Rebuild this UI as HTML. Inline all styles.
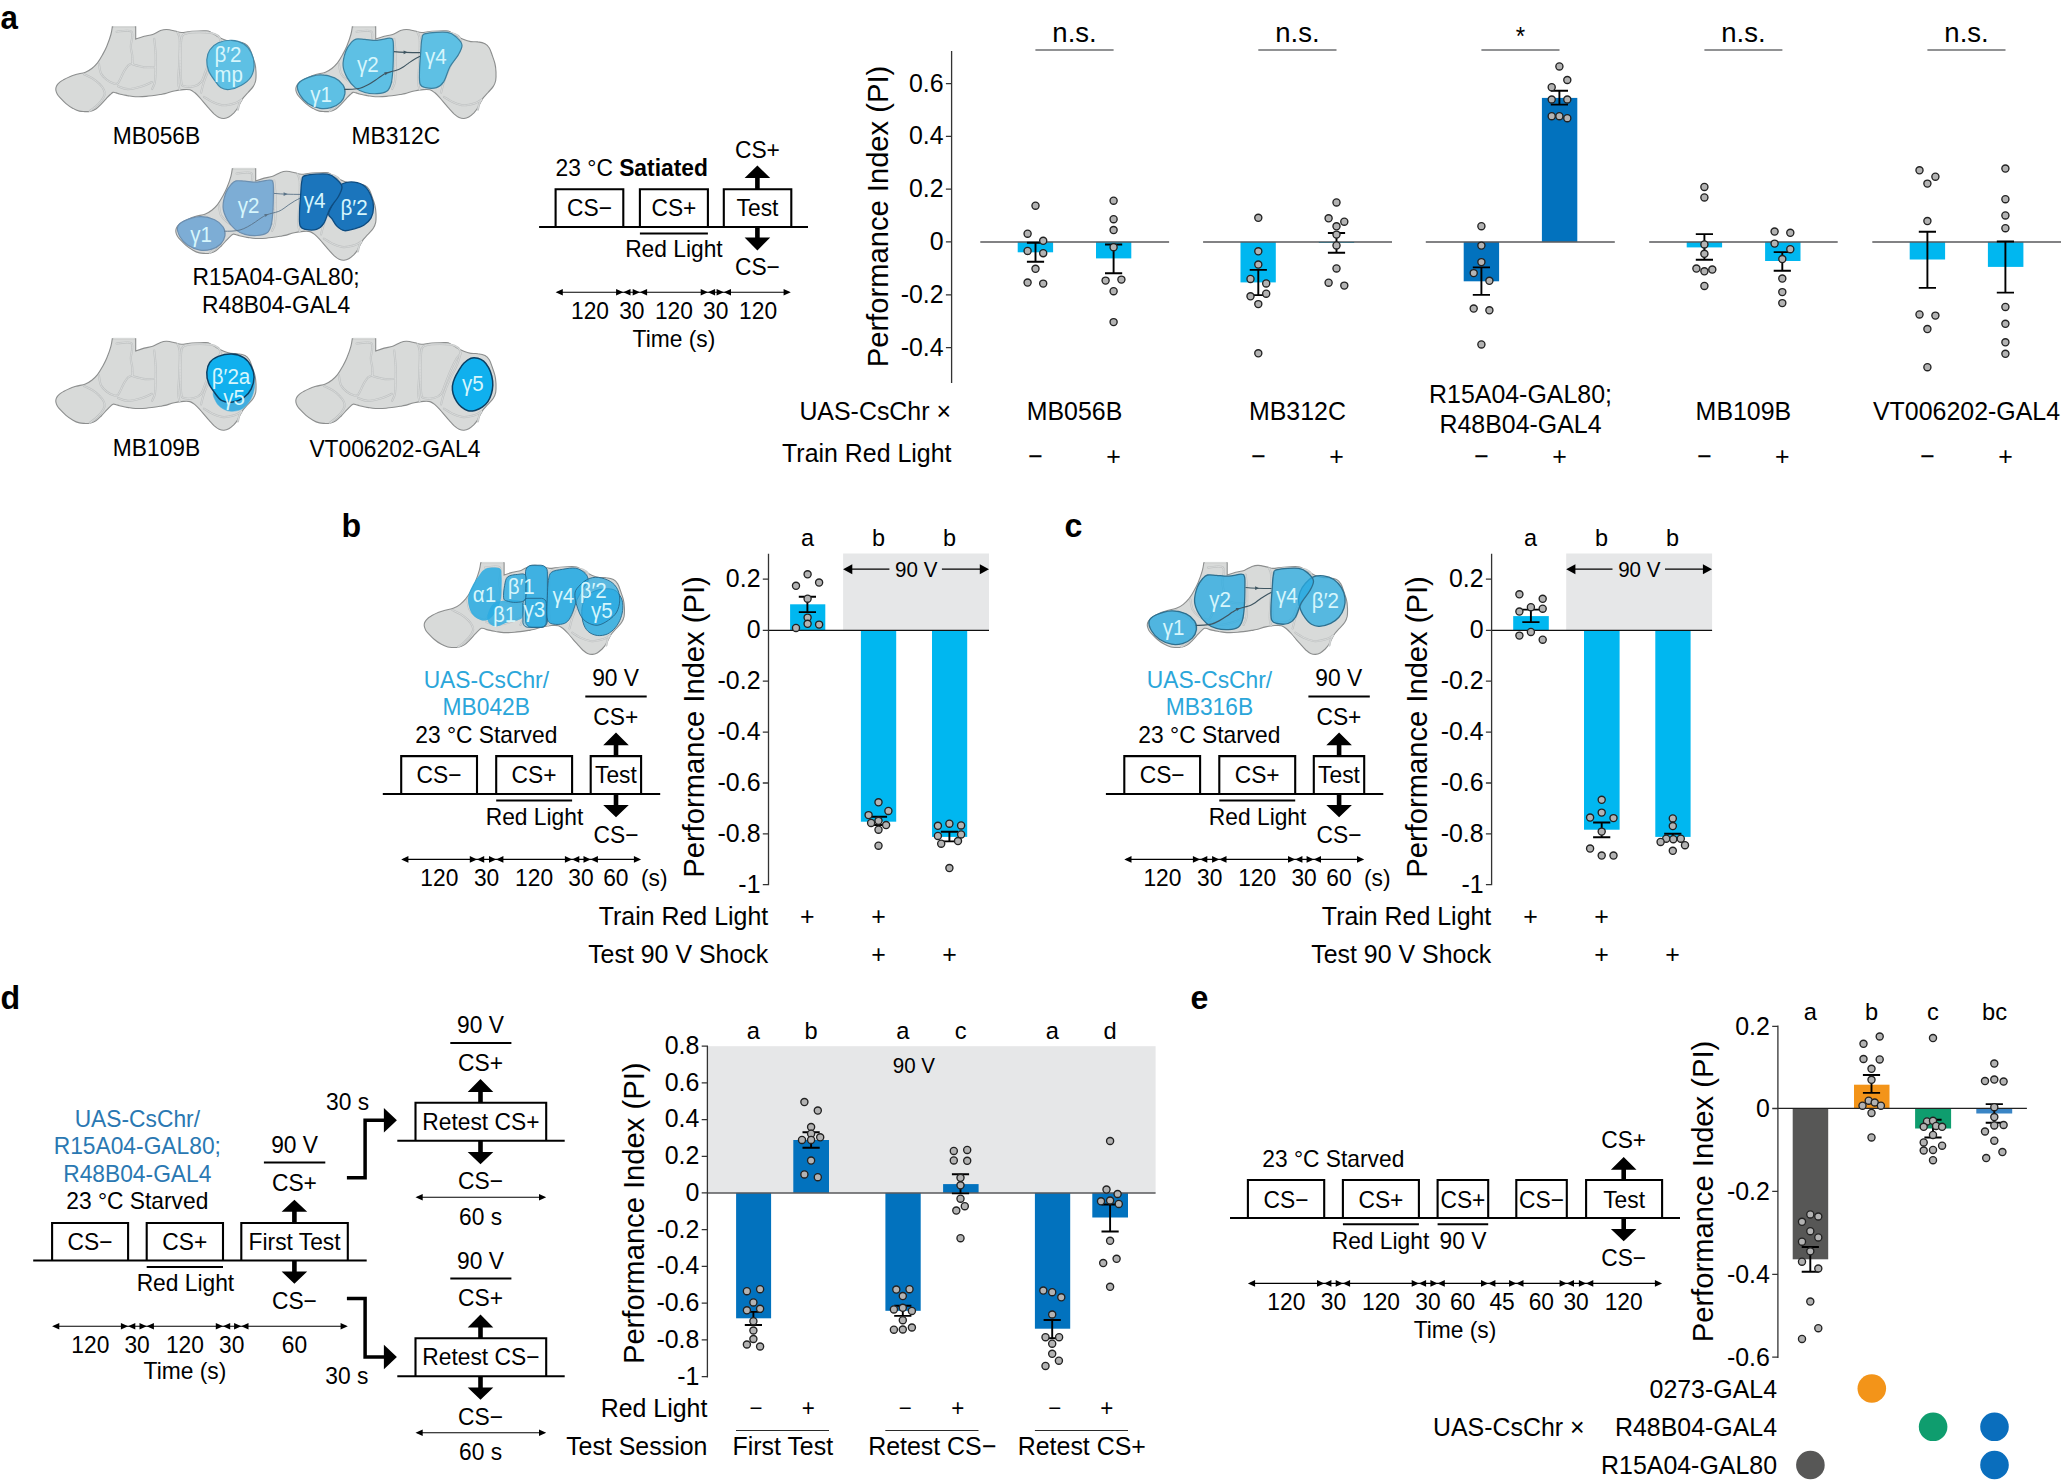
<!DOCTYPE html>
<html lang="en"><head><meta charset="utf-8"><title>Figure</title>
<style>html,body{margin:0;padding:0;background:#fff}svg{display:block}text{font-family:"Liberation Sans",Arial,Helvetica,sans-serif}</style></head><body>
<svg width="2061" height="1482" viewBox="0 0 2061 1482">
<rect width="2061" height="1482" fill="#fff"/>
<defs>
<g id="brain">
<path d="M112.3 26.9L135.7 26.9L135.7 39.1C137.1 38.6 141.4 37.1 144.2 36.3C147.0 35.5 150.0 35.5 152.7 34.5C155.4 33.5 158.2 31.4 160.5 30.6C162.8 29.8 164.2 29.4 166.6 29.5C169.0 29.6 172.8 30.5 175.2 31.0C177.6 31.5 178.5 32.5 181.3 32.5C184.1 32.5 187.8 31.6 191.9 31.3C196.0 31.0 202.9 30.6 206.1 30.8C209.3 31.0 209.2 31.5 211.0 32.4C212.8 33.2 214.6 34.7 216.7 35.9C218.8 37.1 221.4 38.5 223.8 39.5C226.2 40.5 228.6 41.2 230.9 41.6C233.2 42.0 235.6 41.5 237.9 41.9C240.2 42.2 243.1 42.7 245.0 43.7C246.9 44.7 248.1 46.1 249.3 48.0C250.5 49.9 251.2 52.4 252.1 55.0C253.0 57.6 254.2 60.7 254.9 63.5C255.6 66.3 255.9 69.2 256.0 72.0C256.1 74.8 256.1 78.1 255.7 80.5C255.2 82.9 254.6 84.4 253.3 86.4C252.1 88.4 249.8 90.4 248.2 92.3C246.5 94.2 244.7 95.9 243.4 97.6C242.1 99.3 241.5 100.7 240.5 102.5C239.5 104.3 238.6 106.5 237.5 108.3C236.4 110.1 235.1 111.6 233.7 113.1C232.2 114.5 230.4 116.1 228.8 117.0C227.2 117.9 225.6 118.4 224.0 118.5C222.4 118.6 220.7 118.2 219.1 117.5C217.5 116.8 215.9 115.5 214.3 114.1C212.7 112.6 211.0 110.6 209.4 108.8C207.8 107.0 206.2 105.3 204.6 103.4C203.0 101.5 201.3 99.4 199.7 97.6C198.1 95.8 196.5 94.1 194.9 92.8C193.3 91.5 191.9 90.3 190.0 89.8C188.1 89.3 186.0 89.4 183.4 89.6C180.8 89.8 177.3 90.3 174.2 91.0C171.1 91.7 167.4 93.0 165.0 93.6C162.6 94.2 163.2 94.0 160.0 94.5C156.8 95.0 150.2 96.0 146.1 96.4C142.0 96.8 138.5 96.8 135.4 96.7C132.3 96.6 130.1 96.0 127.4 95.6C124.7 95.1 121.3 94.5 119.4 94.0C117.5 93.5 117.3 93.2 116.2 92.9C115.1 92.6 114.0 92.1 113.0 92.4C112.0 92.7 111.4 93.5 110.3 94.5C109.2 95.5 108.1 96.7 106.6 98.3C105.1 99.9 103.0 102.4 101.2 104.2C99.4 106.0 97.8 107.8 95.9 109.0C94.0 110.2 91.9 111.0 90.0 111.4C88.1 111.8 86.5 111.6 84.7 111.6C82.9 111.5 81.4 111.6 79.4 111.1C77.5 110.6 75.2 109.7 73.0 108.4C70.8 107.2 68.2 105.5 66.0 103.6C63.8 101.7 61.1 98.8 59.6 97.2C58.1 95.6 57.8 95.2 57.2 94.0C56.6 92.8 56.1 91.5 55.9 90.3C55.7 89.1 55.8 88.2 56.1 87.1C56.5 86.0 56.9 85.1 58.0 83.9C59.1 82.7 60.8 81.3 62.8 80.1C64.8 78.8 68.0 77.4 70.3 76.4C72.6 75.4 74.2 75.0 76.7 74.3C79.2 73.6 82.9 73.2 85.4 72.2C87.9 71.2 89.8 70.1 91.8 68.5C93.8 66.9 95.7 65.0 97.5 62.8C99.3 60.5 100.9 57.7 102.4 55.0C103.9 52.3 105.3 49.9 106.7 46.5C108.1 43.1 110.0 37.8 110.9 34.5C111.8 31.2 112.1 28.2 112.3 26.9Z" fill="#D8DAD9" stroke="#8C8E8E" stroke-width="1.1"/>
<path d="M113.2 26.9H134.9" stroke="#D8DAD9" stroke-width="1.8"/>
<path d="M116.6 31.7C119.1 31.7 129.1 29.2 131.5 31.7C133.9 34.2 130.7 42.6 130.8 46.5C130.9 50.4 131.9 52.2 132.2 55.0C132.5 57.8 132.4 62.1 132.5 63.5 M98.9 63.5C99.2 65.2 99.7 70.8 101.0 73.5C102.3 76.2 104.6 78.1 106.7 79.8C108.8 81.5 111.9 82.9 113.8 83.4C115.7 83.9 116.3 84.9 118.0 83.0C119.7 81.1 122.0 74.9 123.7 72.0C125.4 69.1 126.4 67.1 127.9 65.7C129.4 64.3 131.7 63.9 132.5 63.5 M132.5 64.3C134.3 64.8 139.7 66.6 143.5 67.1C147.3 67.6 153.6 67.1 155.6 67.1 M154.2 38.7C154.4 41.2 155.4 48.8 155.6 53.6C155.8 58.5 155.7 63.1 155.6 67.8C155.5 72.5 155.5 78.5 154.9 82.0C154.3 85.5 152.5 87.9 152.0 89.1 M177.5 32.4C177.9 33.6 179.4 34.8 179.7 39.5C180.0 44.2 179.6 53.6 179.3 60.7C179.1 67.8 178.1 77.2 178.2 82.0C178.3 86.8 179.4 88.5 179.7 89.8 M84.0 74.2C85.4 74.9 89.9 76.8 92.5 78.4C95.1 80.1 97.7 82.2 99.6 84.1C101.5 86.0 103.0 88.0 103.8 89.8C104.6 91.6 105.1 92.8 104.6 94.7C104.1 96.6 102.5 99.1 101.0 101.1C99.5 103.1 97.2 105.1 95.3 106.8C93.4 108.5 90.6 110.3 89.7 111.0 M118.0 86.2C119.7 86.7 123.9 89.1 127.9 89.1C131.9 89.1 138.1 87.4 142.1 86.2C146.1 85.0 150.3 82.7 152.0 82.0 M183.4 34.5C183.1 35.3 181.8 35.1 181.3 39.5C180.8 43.9 180.5 53.6 180.5 60.7C180.5 67.8 180.7 77.8 181.3 82.0C181.9 86.2 182.0 85.5 184.1 86.2C186.2 86.9 191.2 86.9 194.0 86.2C196.8 85.5 199.2 84.4 201.1 82.0C203.0 79.6 203.7 76.0 205.3 72.0C207.0 68.0 209.1 62.1 211.0 57.9C212.9 53.6 215.2 49.2 216.7 46.5C218.2 43.8 220.0 43.4 220.2 41.6C220.4 39.8 219.9 37.4 218.1 35.9C216.3 34.4 214.0 33.3 209.6 32.7C205.2 32.1 196.3 32.1 191.9 32.4C187.5 32.7 184.8 34.1 183.4 34.5 M220.9 40.9C220.2 43.0 218.6 49.1 216.7 53.6C214.8 58.1 211.7 63.1 209.6 67.8C207.5 72.5 205.3 77.9 203.9 82.0C202.5 86.1 201.6 90.8 201.1 92.6 M203.9 96.8C205.6 97.8 210.5 101.1 213.8 102.5C217.1 103.9 220.2 105.2 223.8 105.3C227.4 105.4 232.2 104.1 235.1 103.2C238.0 102.3 240.4 100.3 241.5 99.7 M237.9 109.6C238.2 108.5 238.8 104.8 239.4 103.2C240.0 101.6 241.2 100.3 241.5 99.7" fill="none" stroke="#BEC1C1" stroke-width="2.1" stroke-linecap="round"/>
<path d="M116.6 31.7C119.1 31.7 129.1 29.2 131.5 31.7C133.9 34.2 130.7 42.6 130.8 46.5C130.9 50.4 131.9 52.2 132.2 55.0C132.5 57.8 132.4 62.1 132.5 63.5 M98.9 63.5C99.2 65.2 99.7 70.8 101.0 73.5C102.3 76.2 104.6 78.1 106.7 79.8C108.8 81.5 111.9 82.9 113.8 83.4C115.7 83.9 116.3 84.9 118.0 83.0C119.7 81.1 122.0 74.9 123.7 72.0C125.4 69.1 126.4 67.1 127.9 65.7C129.4 64.3 131.7 63.9 132.5 63.5 M132.5 64.3C134.3 64.8 139.7 66.6 143.5 67.1C147.3 67.6 153.6 67.1 155.6 67.1 M154.2 38.7C154.4 41.2 155.4 48.8 155.6 53.6C155.8 58.5 155.7 63.1 155.6 67.8C155.5 72.5 155.5 78.5 154.9 82.0C154.3 85.5 152.5 87.9 152.0 89.1 M177.5 32.4C177.9 33.6 179.4 34.8 179.7 39.5C180.0 44.2 179.6 53.6 179.3 60.7C179.1 67.8 178.1 77.2 178.2 82.0C178.3 86.8 179.4 88.5 179.7 89.8 M84.0 74.2C85.4 74.9 89.9 76.8 92.5 78.4C95.1 80.1 97.7 82.2 99.6 84.1C101.5 86.0 103.0 88.0 103.8 89.8C104.6 91.6 105.1 92.8 104.6 94.7C104.1 96.6 102.5 99.1 101.0 101.1C99.5 103.1 97.2 105.1 95.3 106.8C93.4 108.5 90.6 110.3 89.7 111.0 M118.0 86.2C119.7 86.7 123.9 89.1 127.9 89.1C131.9 89.1 138.1 87.4 142.1 86.2C146.1 85.0 150.3 82.7 152.0 82.0 M183.4 34.5C183.1 35.3 181.8 35.1 181.3 39.5C180.8 43.9 180.5 53.6 180.5 60.7C180.5 67.8 180.7 77.8 181.3 82.0C181.9 86.2 182.0 85.5 184.1 86.2C186.2 86.9 191.2 86.9 194.0 86.2C196.8 85.5 199.2 84.4 201.1 82.0C203.0 79.6 203.7 76.0 205.3 72.0C207.0 68.0 209.1 62.1 211.0 57.9C212.9 53.6 215.2 49.2 216.7 46.5C218.2 43.8 220.0 43.4 220.2 41.6C220.4 39.8 219.9 37.4 218.1 35.9C216.3 34.4 214.0 33.3 209.6 32.7C205.2 32.1 196.3 32.1 191.9 32.4C187.5 32.7 184.8 34.1 183.4 34.5 M220.9 40.9C220.2 43.0 218.6 49.1 216.7 53.6C214.8 58.1 211.7 63.1 209.6 67.8C207.5 72.5 205.3 77.9 203.9 82.0C202.5 86.1 201.6 90.8 201.1 92.6 M203.9 96.8C205.6 97.8 210.5 101.1 213.8 102.5C217.1 103.9 220.2 105.2 223.8 105.3C227.4 105.4 232.2 104.1 235.1 103.2C238.0 102.3 240.4 100.3 241.5 99.7 M237.9 109.6C238.2 108.5 238.8 104.8 239.4 103.2C240.0 101.6 241.2 100.3 241.5 99.7" fill="none" stroke="#DEE0E0" stroke-width="0.8" stroke-linecap="round"/>
</g>
</defs>
<text transform="translate(0.5 29.4) scale(0.94 1)" font-size="33.3" font-weight="bold">a</text>
<text transform="translate(341.5 536.8) scale(0.966 1)" font-size="33.3" font-weight="bold">b</text>
<text transform="translate(1064.5 536.8) scale(0.966 1)" font-size="33.3" font-weight="bold">c</text>
<text transform="translate(0.5 1009.2) scale(0.966 1)" font-size="33.3" font-weight="bold">d</text>
<text transform="translate(1190.5 1009.2) scale(0.966 1)" font-size="33.3" font-weight="bold">e</text>
<g transform="translate(0.0 0.0)">
<use href="#brain"/>
<path d="M209.8 50.0C211.7 47.2 214.7 44.4 218.3 42.8C222.0 41.2 227.4 40.1 231.7 40.3C235.9 40.5 240.6 42.0 243.8 44.0C247.0 46.0 249.4 49.1 251.1 52.5C252.8 55.9 254.1 60.6 254.1 64.6C254.1 68.6 253.2 73.3 251.1 76.7C249.0 80.1 245.1 83.1 241.4 85.2C237.8 87.3 232.6 89.1 229.2 89.5C225.8 89.9 223.1 89.1 220.7 87.6C218.3 86.1 216.7 83.2 214.7 80.4C212.7 77.6 209.9 74.2 208.6 70.7C207.3 67.2 206.6 63.2 206.8 59.7C207.0 56.2 207.9 52.8 209.8 50.0Z" fill="#5EC0E4" stroke="#3F87A8" stroke-width="1.2"/>
</g>
<text transform="translate(228.0 61.7) scale(0.966 1)" font-size="21.3" text-anchor="middle" fill="#D6F6FC">β′2</text>
<text transform="translate(228.6 81.8) scale(0.966 1)" font-size="21.3" text-anchor="middle" fill="#D6F6FC">mp</text>
<text transform="translate(156.5 144.2) scale(0.966 1)" font-size="23.6" text-anchor="middle">MB056B</text>
<g transform="translate(240.0 0.0)">
<use href="#brain"/>
<path d="M57.6 85.2C58.3 82.6 60.6 80.8 64.3 79.1C68.0 77.4 75.0 75.1 80.0 74.9C85.0 74.7 90.8 76.2 94.6 77.9C98.4 79.6 101.4 82.6 103.1 85.2C104.8 87.8 105.3 90.9 104.9 93.7C104.5 96.5 103.0 99.9 100.7 102.2C98.4 104.5 94.5 106.6 91.0 107.6C87.5 108.6 83.8 109.0 80.0 108.3C76.2 107.6 71.2 105.6 67.9 103.4C64.6 101.2 61.7 97.9 60.0 94.9C58.3 91.9 56.9 87.8 57.6 85.2Z" fill="#5EC0E4" stroke="#3B7F9E" stroke-width="1.2"/>
<path d="M116.0 39.1C118.3 38.6 121.4 39.2 124.9 39.4C128.4 39.6 132.9 40.5 137.0 40.3C141.1 40.1 146.8 38.2 149.5 38.2C152.2 38.2 152.2 38.5 152.9 40.5C153.6 42.5 153.4 45.0 153.4 50.0C153.4 55.0 153.2 65.0 152.8 70.7C152.4 76.4 152.0 80.6 151.0 84.0C150.0 87.4 149.0 89.7 146.7 91.3C144.4 92.9 140.6 93.5 137.0 93.7C133.4 93.9 128.5 93.5 124.9 92.5C121.3 91.5 118.1 90.0 115.2 87.6C112.3 85.2 109.3 81.5 107.3 77.9C105.3 74.3 103.3 70.2 103.1 65.8C102.8 61.3 104.4 55.1 105.8 51.2C107.2 47.3 109.5 44.6 111.2 42.6C112.9 40.6 113.7 39.6 116.0 39.1Z" fill="#5EC0E4" stroke="#3B7F9E" stroke-width="1.2"/>
<path d="M185.6 33.7C189.8 32.6 202.2 31.7 207.4 32.4C212.7 33.1 214.7 35.8 217.1 37.9C219.5 40.0 221.8 42.4 222.0 45.2C222.2 48.0 220.3 51.3 218.3 54.9C216.3 58.5 212.2 62.5 209.8 67.0C207.4 71.5 206.0 78.2 203.8 81.6C201.6 85.0 199.5 86.6 196.5 87.6C193.5 88.6 188.3 88.2 185.6 87.6C182.9 87.0 181.1 86.8 180.1 84.0C179.1 81.2 179.4 76.0 179.5 70.7C179.6 65.5 180.3 57.8 180.7 52.5C181.1 47.2 181.1 42.2 181.9 39.1C182.7 36.0 181.3 34.8 185.6 33.7Z" fill="#5EC0E4" stroke="#3B7F9E" stroke-width="1.2"/>
<path d="M104.2 89.4C105.5 89.4 109.4 89.5 112.0 89.3C114.6 89.1 117.4 88.9 120.0 88.2C122.6 87.5 125.0 86.3 127.5 85.0C130.1 83.7 133.1 81.7 135.3 80.2C137.6 78.7 139.1 77.4 141.0 76.2C142.9 75.0 144.6 73.9 146.5 73.1C148.4 72.3 150.5 71.9 152.5 71.3C154.5 70.7 156.8 70.4 158.7 69.6C160.6 68.8 162.3 67.6 164.0 66.5C165.7 65.4 167.2 64.1 168.9 62.9C170.7 61.7 172.6 60.4 174.5 59.3C176.4 58.2 179.2 56.8 180.1 56.3" fill="none" stroke="#3E5561" stroke-width="1.1"/>
<path d="M154 51.6C162 52.4 172 52.6 180.1 52.6" fill="none" stroke="#3E5561" stroke-width="1.1"/>
<path d="M163.6 50.4L167.6 52.3L163.6 54.2Z" fill="#3E5561"/>
<path d="M144.2 72.2L148.4 72.2L145.6 75.2Z" fill="#3E5561"/>
</g>
<text transform="translate(321.2 102.4) scale(0.966 1)" font-size="21.3" text-anchor="middle" fill="#D6F6FC">γ1</text>
<text transform="translate(367.9 71.5) scale(0.966 1)" font-size="21.3" text-anchor="middle" fill="#D6F6FC">γ2</text>
<text transform="translate(435.9 64.2) scale(0.966 1)" font-size="21.3" text-anchor="middle" fill="#D6F6FC">γ4</text>
<text transform="translate(395.8 144.2) scale(0.966 1)" font-size="23.6" text-anchor="middle">MB312C</text>
<g transform="translate(120.0 141.8)">
<use href="#brain"/>
<path d="M57.6 85.2C58.3 82.6 60.6 80.8 64.3 79.1C68.0 77.4 75.0 75.1 80.0 74.9C85.0 74.7 90.8 76.2 94.6 77.9C98.4 79.6 101.4 82.6 103.1 85.2C104.8 87.8 105.3 90.9 104.9 93.7C104.5 96.5 103.0 99.9 100.7 102.2C98.4 104.5 94.5 106.6 91.0 107.6C87.5 108.6 83.8 109.0 80.0 108.3C76.2 107.6 71.2 105.6 67.9 103.4C64.6 101.2 61.7 97.9 60.0 94.9C58.3 91.9 56.9 87.8 57.6 85.2Z" fill="#7DADD5" stroke="#6C8FB0" stroke-width="1.2"/>
<path d="M116.0 39.1C118.3 38.6 121.4 39.2 124.9 39.4C128.4 39.6 132.9 40.5 137.0 40.3C141.1 40.1 146.8 38.2 149.5 38.2C152.2 38.2 152.2 38.5 152.9 40.5C153.6 42.5 153.4 45.0 153.4 50.0C153.4 55.0 153.2 65.0 152.8 70.7C152.4 76.4 152.0 80.6 151.0 84.0C150.0 87.4 149.0 89.7 146.7 91.3C144.4 92.9 140.6 93.5 137.0 93.7C133.4 93.9 128.5 93.5 124.9 92.5C121.3 91.5 118.1 90.0 115.2 87.6C112.3 85.2 109.3 81.5 107.3 77.9C105.3 74.3 103.3 70.2 103.1 65.8C102.8 61.3 104.4 55.1 105.8 51.2C107.2 47.3 109.5 44.6 111.2 42.6C112.9 40.6 113.7 39.6 116.0 39.1Z" fill="#7DADD5" stroke="#6C8FB0" stroke-width="1.2"/>
<path d="M104.2 89.4C105.5 89.4 109.4 89.5 112.0 89.3C114.6 89.1 117.4 88.9 120.0 88.2C122.6 87.5 125.0 86.3 127.5 85.0C130.1 83.7 133.1 81.7 135.3 80.2C137.6 78.7 139.1 77.4 141.0 76.2C142.9 75.0 144.6 73.9 146.5 73.1C148.4 72.3 150.5 71.9 152.5 71.3C154.5 70.7 156.8 70.4 158.7 69.6C160.6 68.8 162.3 67.6 164.0 66.5C165.7 65.4 167.2 64.1 168.9 62.9C170.7 61.7 172.6 60.4 174.5 59.3C176.4 58.2 179.2 56.8 180.1 56.3" fill="none" stroke="#5a7388" stroke-width="0.9"/>
<path d="M154 51.6C162 52.4 172 52.6 180.1 52.6" fill="none" stroke="#5a7388" stroke-width="0.9"/>
<path d="M163.6 50.4L167.6 52.3L163.6 54.2Z" fill="#5a7388"/>
<path d="M144.2 72.2L148.4 72.2L145.6 75.2Z" fill="#5a7388"/>
<path d="M222.0 42.2C224.2 41.1 230.3 39.9 234.1 40.3C237.9 40.7 242.2 42.3 245.0 44.6C247.8 46.9 249.7 50.9 251.1 54.3C252.5 57.7 253.5 61.6 253.5 65.2C253.5 68.8 252.7 73.1 251.1 76.1C249.5 79.1 246.6 81.6 243.8 83.4C241.0 85.2 237.3 86.1 234.1 87.0C230.9 87.9 227.2 89.3 224.4 88.9C221.6 88.5 219.1 86.5 217.1 84.6C215.1 82.7 213.6 79.5 212.2 77.3C210.8 75.1 208.0 74.7 208.6 71.3C209.2 67.9 213.9 60.8 215.9 56.7C217.9 52.7 219.7 49.4 220.7 47.0C221.7 44.6 219.8 43.3 222.0 42.2Z" fill="#1B75BC" stroke="#0E4C80" stroke-width="1.3"/>
<path d="M185.6 33.7C189.8 32.6 202.2 31.7 207.4 32.4C212.7 33.1 214.7 35.8 217.1 37.9C219.5 40.0 221.8 42.4 222.0 45.2C222.2 48.0 220.3 51.3 218.3 54.9C216.3 58.5 212.2 62.5 209.8 67.0C207.4 71.5 206.0 78.2 203.8 81.6C201.6 85.0 199.5 86.6 196.5 87.6C193.5 88.6 188.3 88.2 185.6 87.6C182.9 87.0 181.1 86.8 180.1 84.0C179.1 81.2 179.4 76.0 179.5 70.7C179.6 65.5 180.3 57.8 180.7 52.5C181.1 47.2 181.1 42.2 181.9 39.1C182.7 36.0 181.3 34.8 185.6 33.7Z" fill="#1B75BC" stroke="#0E4C80" stroke-width="1.3"/>
</g>
<text transform="translate(201.2 242.4) scale(0.966 1)" font-size="21.3" text-anchor="middle" fill="#D6F6FC">γ1</text>
<text transform="translate(248.5 213.3) scale(0.966 1)" font-size="21.3" text-anchor="middle" fill="#D6F6FC">γ2</text>
<text transform="translate(314.7 207.8) scale(0.966 1)" font-size="21.3" text-anchor="middle" fill="#D6F6FC">γ4</text>
<text transform="translate(354.1 214.5) scale(0.966 1)" font-size="21.3" text-anchor="middle" fill="#D6F6FC">β′2</text>
<text transform="translate(276.1 285.4) scale(0.966 1)" font-size="23.6" text-anchor="middle">R15A04-GAL80;</text>
<text transform="translate(276.1 313.3) scale(0.966 1)" font-size="23.6" text-anchor="middle">R48B04-GAL4</text>
<g transform="translate(0.0 311.8)">
<use href="#brain"/>
<path d="M214.0 78.0C211.7 83.0 214.5 86.8 216.0 90.0C217.5 93.2 220.3 95.4 223.0 97.0C225.7 98.6 228.7 99.6 232.0 99.5C235.3 99.4 239.8 98.8 243.0 96.5C246.2 94.2 249.6 90.1 251.5 86.0C253.4 81.9 254.9 76.3 254.7 72.0C254.4 67.7 254.1 62.0 250.0 60.0C245.9 58.0 236.0 57.0 230.0 60.0C224.0 63.0 216.3 73.0 214.0 78.0Z" fill="#3FAEE0" stroke="#3FAEE0" stroke-width="0.5"/>
<path d="M209.8 50.7C211.7 48.1 214.7 46.0 218.3 44.6C222.0 43.2 227.4 42.0 231.7 42.2C235.9 42.4 240.6 43.8 243.8 45.8C247.0 47.8 249.4 51.1 251.1 54.3C252.8 57.5 254.1 61.4 254.1 65.2C254.1 69.0 252.8 73.9 251.1 77.3C249.4 80.7 246.8 83.7 243.8 85.8C240.8 87.9 236.5 89.6 232.9 90.1C229.3 90.6 225.0 90.4 222.0 88.9C219.0 87.4 216.9 83.9 214.7 81.0C212.5 78.1 209.9 74.7 208.6 71.3C207.3 67.9 206.6 63.8 206.8 60.4C207.0 57.0 207.9 53.3 209.8 50.7Z" fill="#10B0EE" stroke="#0B3F63" stroke-width="1.5"/>
</g>
<text transform="translate(231.0 383.9) scale(0.966 1)" font-size="21.3" text-anchor="middle" fill="#D6F6FC">β′2a</text>
<text transform="translate(234.1 404.5) scale(0.966 1)" font-size="21.3" text-anchor="middle" fill="#D6F6FC">γ5</text>
<text transform="translate(156.5 456.0) scale(0.966 1)" font-size="23.6" text-anchor="middle">MB109B</text>
<g transform="translate(240.0 311.8)">
<use href="#brain"/>
<path d="M230.9 46.5C233.2 45.7 235.8 46.0 237.9 46.5C240.0 47.0 241.8 47.9 243.6 49.4C245.4 50.9 247.2 53.3 248.6 55.8C250.0 58.3 251.1 61.3 251.8 64.3C252.5 67.2 252.9 70.5 252.8 73.5C252.7 76.5 252.2 79.3 251.4 82.0C250.6 84.7 249.4 87.6 247.9 89.8C246.4 92.0 244.3 93.9 242.2 95.4C240.1 96.9 237.5 98.0 235.1 98.6C232.7 99.2 230.2 99.5 228.0 99.0C225.8 98.5 223.5 96.9 221.6 95.4C219.7 93.9 218.1 92.0 216.7 89.8C215.3 87.6 213.8 84.6 213.1 82.0C212.4 79.4 212.2 76.8 212.4 74.2C212.7 71.6 213.5 69.0 214.6 66.4C215.7 63.8 217.3 61.1 218.8 58.6C220.3 56.1 221.8 53.5 223.8 51.5C225.8 49.5 228.6 47.3 230.9 46.5Z" fill="#10B0EE" stroke="#0B3F63" stroke-width="1.5"/>
</g>
<text transform="translate(472.9 390.9) scale(0.966 1)" font-size="21.3" text-anchor="middle" fill="#D6F6FC">γ5</text>
<text transform="translate(394.9 456.7) scale(0.966 1)" font-size="23.6" text-anchor="middle">VT006202-GAL4</text>
<text transform="translate(555.6 175.8) scale(0.966 1)" font-size="23.6">23 °C <tspan font-weight="bold">Satiated</tspan></text>
<line x1="539.1" y1="226.9" x2="808.0" y2="226.9" stroke="#000" stroke-width="2.0"/>
<path d="M555.6 226.9V189.3H623.3V226.9" fill="none" stroke="#000" stroke-width="2.1"/>
<text transform="translate(589.5 216.3) scale(0.966 1)" font-size="23.6" text-anchor="middle">CS−</text>
<path d="M639.9 226.9V189.3H707.9V226.9" fill="none" stroke="#000" stroke-width="2.1"/>
<text transform="translate(673.9 216.3) scale(0.966 1)" font-size="23.6" text-anchor="middle">CS+</text>
<path d="M723.8 226.9V189.3H791.3V226.9" fill="none" stroke="#000" stroke-width="2.1"/>
<text transform="translate(757.5 216.3) scale(0.966 1)" font-size="23.6" text-anchor="middle">Test</text>
<line x1="639.9" y1="233.4" x2="707.9" y2="233.4" stroke="#000" stroke-width="2.0"/>
<text transform="translate(673.9 257.1) scale(0.966 1)" font-size="23.6" text-anchor="middle">Red Light</text>
<text transform="translate(757.4 157.7) scale(0.966 1)" font-size="23.6" text-anchor="middle">CS+</text>
<path d="M757.4 165.4L770.2 178.0H759.7V189.3H755.1V178.0H744.6Z" fill="#000"/>
<path d="M757.4 250.4L770.2 237.4H759.7V226.9H755.1V237.4H744.6Z" fill="#000"/>
<text transform="translate(757.4 274.7) scale(0.966 1)" font-size="23.6" text-anchor="middle">CS−</text>
<line x1="557.6" y1="292.2" x2="788.8" y2="292.2" stroke="#000" stroke-width="1.1"/>
<path d="M555.6 292.2L562.8 288.9V295.5ZM623.3 292.2L616.1 288.9V295.5ZM623.3 292.2L630.5 288.9V295.5ZM639.9 292.2L632.7 288.9V295.5ZM639.9 292.2L647.1 288.9V295.5ZM707.9 292.2L700.7 288.9V295.5ZM707.9 292.2L715.1 288.9V295.5ZM723.8 292.2L716.6 288.9V295.5ZM723.8 292.2L731.0 288.9V295.5ZM790.8 292.2L783.6 288.9V295.5Z" fill="#000"/>
<text transform="translate(590.0 318.7) scale(0.966 1)" font-size="23.6" text-anchor="middle">120</text>
<text transform="translate(631.8 318.7) scale(0.966 1)" font-size="23.6" text-anchor="middle">30</text>
<text transform="translate(673.9 318.7) scale(0.966 1)" font-size="23.6" text-anchor="middle">120</text>
<text transform="translate(715.7 318.7) scale(0.966 1)" font-size="23.6" text-anchor="middle">30</text>
<text transform="translate(758.1 318.7) scale(0.966 1)" font-size="23.6" text-anchor="middle">120</text>
<text transform="translate(673.9 346.7) scale(0.966 1)" font-size="23.6" text-anchor="middle">Time (s)</text>
<text transform="translate(943.6 91.6) scale(0.966 1)" font-size="25.8" text-anchor="end">0.6</text>
<text transform="translate(943.6 144.4) scale(0.966 1)" font-size="25.8" text-anchor="end">0.4</text>
<text transform="translate(943.6 197.1) scale(0.966 1)" font-size="25.8" text-anchor="end">0.2</text>
<text transform="translate(943.6 249.9) scale(0.966 1)" font-size="25.8" text-anchor="end">0</text>
<text transform="translate(943.6 302.8) scale(0.966 1)" font-size="25.8" text-anchor="end">-0.2</text>
<text transform="translate(943.6 355.6) scale(0.966 1)" font-size="25.8" text-anchor="end">-0.4</text>
<path d="M951.6 50.9V382.9M945.9 83.6H951.6M945.9 136.4H951.6M945.9 189.1H951.6M945.9 241.9H951.6M945.9 294.8H951.6M945.9 347.6H951.6" fill="none" stroke="#333" stroke-width="1.3"/>
<text transform="translate(887.6 216.5) rotate(-90) scale(0.966 1)" font-size="30.2" text-anchor="middle">Performance Index (PI)</text>
<rect x="1017.7" y="241.9" width="35.4" height="10.4" fill="#00B7F0"/>
<rect x="1096.0" y="241.9" width="35.3" height="16.5" fill="#00B7F0"/>
<line x1="980.3" y1="241.9" x2="1169.1" y2="241.9" stroke="#58595B" stroke-width="1.5"/>
<line x1="1035.4" y1="50.0" x2="1113.6" y2="50.0" stroke="#6D6E70" stroke-width="1.5"/>
<text transform="translate(1074.5 41.9) scale(0.966 1)" font-size="28.5" text-anchor="middle">n.s.</text>
<text transform="translate(1074.5 420.0) scale(0.966 1)" font-size="25.8" text-anchor="middle">MB056B</text>
<text transform="translate(1035.4 465.2) scale(0.966 1)" font-size="25.8" text-anchor="middle">−</text>
<text transform="translate(1113.6 465.2) scale(0.966 1)" font-size="25.8" text-anchor="middle">+</text>
<rect x="1240.5" y="241.9" width="35.3" height="40.5" fill="#00B7F0"/>
<rect x="1318.8" y="241.9" width="35.4" height="1.1" fill="#00B7F0"/>
<line x1="1203.1" y1="241.9" x2="1392.0" y2="241.9" stroke="#58595B" stroke-width="1.5"/>
<line x1="1258.3" y1="50.0" x2="1336.5" y2="50.0" stroke="#6D6E70" stroke-width="1.5"/>
<text transform="translate(1297.4 41.9) scale(0.966 1)" font-size="28.5" text-anchor="middle">n.s.</text>
<text transform="translate(1297.4 420.0) scale(0.966 1)" font-size="25.8" text-anchor="middle">MB312C</text>
<text transform="translate(1258.3 465.2) scale(0.966 1)" font-size="25.8" text-anchor="middle">−</text>
<text transform="translate(1336.5 465.2) scale(0.966 1)" font-size="25.8" text-anchor="middle">+</text>
<rect x="1463.7" y="241.9" width="35.4" height="39.4" fill="#0272BE"/>
<rect x="1541.9" y="97.9" width="35.4" height="144.0" fill="#0272BE"/>
<line x1="1425.8" y1="241.9" x2="1614.8" y2="241.9" stroke="#58595B" stroke-width="1.5"/>
<line x1="1481.4" y1="50.0" x2="1559.5" y2="50.0" stroke="#6D6E70" stroke-width="1.5"/>
<text transform="translate(1520.5 45.4) scale(0.966 1)" font-size="25" text-anchor="middle">*</text>
<text transform="translate(1520.5 403.1) scale(0.966 1)" font-size="25.8" text-anchor="middle">R15A04-GAL80;</text>
<text transform="translate(1520.5 432.9) scale(0.966 1)" font-size="25.8" text-anchor="middle">R48B04-GAL4</text>
<text transform="translate(1481.4 465.2) scale(0.966 1)" font-size="25.8" text-anchor="middle">−</text>
<text transform="translate(1559.5 465.2) scale(0.966 1)" font-size="25.8" text-anchor="middle">+</text>
<rect x="1686.7" y="241.9" width="35.4" height="5.5" fill="#00B7F0"/>
<rect x="1765.1" y="241.9" width="35.4" height="19.1" fill="#00B7F0"/>
<line x1="1649.2" y1="241.9" x2="1837.7" y2="241.9" stroke="#58595B" stroke-width="1.5"/>
<line x1="1704.4" y1="50.0" x2="1782.4" y2="50.0" stroke="#6D6E70" stroke-width="1.5"/>
<text transform="translate(1743.4 41.9) scale(0.966 1)" font-size="28.5" text-anchor="middle">n.s.</text>
<text transform="translate(1743.4 420.0) scale(0.966 1)" font-size="25.8" text-anchor="middle">MB109B</text>
<text transform="translate(1704.4 465.2) scale(0.966 1)" font-size="25.8" text-anchor="middle">−</text>
<text transform="translate(1782.4 465.2) scale(0.966 1)" font-size="25.8" text-anchor="middle">+</text>
<rect x="1909.7" y="241.9" width="35.4" height="17.6" fill="#00B7F0"/>
<rect x="1987.9" y="241.9" width="35.5" height="25.0" fill="#00B7F0"/>
<line x1="1872.3" y1="241.9" x2="2061.0" y2="241.9" stroke="#58595B" stroke-width="1.5"/>
<line x1="1927.4" y1="50.0" x2="2005.5" y2="50.0" stroke="#6D6E70" stroke-width="1.5"/>
<text transform="translate(1966.5 41.9) scale(0.966 1)" font-size="28.5" text-anchor="middle">n.s.</text>
<text transform="translate(1966.5 420.0) scale(0.966 1)" font-size="25.8" text-anchor="middle">VT006202-GAL4</text>
<text transform="translate(1927.4 465.2) scale(0.966 1)" font-size="25.8" text-anchor="middle">−</text>
<text transform="translate(2005.5 465.2) scale(0.966 1)" font-size="25.8" text-anchor="middle">+</text>
<text transform="translate(951.0 420.0) scale(0.966 1)" font-size="25.8" text-anchor="end">UAS-CsChr ×</text>
<text transform="translate(951.5 461.7) scale(0.966 1)" font-size="25.8" text-anchor="end">Train Red Light</text>
<path d="M1026.9 242.8H1044.1M1026.9 261.7H1044.1M1035.5 242.8V261.7" fill="none" stroke="#000" stroke-width="1.9"/>
<path d="M1105.0 244.5H1122.2M1105.0 273.2H1122.2M1113.6 244.5V273.2" fill="none" stroke="#000" stroke-width="1.9"/>
<path d="M1249.7 269.9H1266.9M1249.7 295.1H1266.9M1258.3 269.9V295.1" fill="none" stroke="#000" stroke-width="1.9"/>
<path d="M1327.9 233.0H1345.1M1327.9 252.7H1345.1M1336.5 233.0V252.7" fill="none" stroke="#000" stroke-width="1.9"/>
<path d="M1472.8 267.4H1490.0M1472.8 294.9H1490.0M1481.4 267.4V294.9" fill="none" stroke="#000" stroke-width="1.9"/>
<path d="M1550.8 90.8H1568.0M1550.8 104.6H1568.0M1559.4 90.8V104.6" fill="none" stroke="#000" stroke-width="1.9"/>
<path d="M1695.8 234.1H1713.0M1695.8 259.7H1713.0M1704.4 234.1V259.7" fill="none" stroke="#000" stroke-width="1.9"/>
<path d="M1773.7 252.1H1790.9M1773.7 270.8H1790.9M1782.3 252.1V270.8" fill="none" stroke="#000" stroke-width="1.9"/>
<path d="M1918.8 231.8H1936.0M1918.8 287.9H1936.0M1927.4 231.8V287.9" fill="none" stroke="#000" stroke-width="1.9"/>
<path d="M1996.8 241.5H2014.0M1996.8 292.6H2014.0M2005.4 241.5V292.6" fill="none" stroke="#000" stroke-width="1.9"/>
<g fill="#B3B3B3" stroke="#222" stroke-width="1.35">
<circle cx="1035.5" cy="205.7" r="3.55"/>
<circle cx="1027.6" cy="233.7" r="3.55"/>
<circle cx="1043.2" cy="240.8" r="3.55"/>
<circle cx="1027.6" cy="250.9" r="3.55"/>
<circle cx="1043.2" cy="253.2" r="3.55"/>
<circle cx="1035.5" cy="268.8" r="3.55"/>
<circle cx="1027.6" cy="282.5" r="3.55"/>
<circle cx="1043.2" cy="283.6" r="3.55"/>
<circle cx="1113.6" cy="200.7" r="3.55"/>
<circle cx="1113.6" cy="219.2" r="3.55"/>
<circle cx="1113.6" cy="230.0" r="3.55"/>
<circle cx="1113.6" cy="247.2" r="3.55"/>
<circle cx="1105.6" cy="280.6" r="3.55"/>
<circle cx="1121.4" cy="279.6" r="3.55"/>
<circle cx="1113.6" cy="291.2" r="3.55"/>
<circle cx="1113.6" cy="322.1" r="3.55"/>
<circle cx="1258.3" cy="217.8" r="3.55"/>
<circle cx="1258.3" cy="251.3" r="3.55"/>
<circle cx="1258.3" cy="264.5" r="3.55"/>
<circle cx="1250.5" cy="278.9" r="3.55"/>
<circle cx="1266.2" cy="283.4" r="3.55"/>
<circle cx="1266.2" cy="293.7" r="3.55"/>
<circle cx="1250.5" cy="296.3" r="3.55"/>
<circle cx="1258.3" cy="304.1" r="3.55"/>
<circle cx="1258.3" cy="353.3" r="3.55"/>
<circle cx="1336.5" cy="202.4" r="3.55"/>
<circle cx="1328.6" cy="218.3" r="3.55"/>
<circle cx="1344.3" cy="221.7" r="3.55"/>
<circle cx="1336.5" cy="226.3" r="3.55"/>
<circle cx="1336.5" cy="234.6" r="3.55"/>
<circle cx="1336.5" cy="245.4" r="3.55"/>
<circle cx="1336.5" cy="268.4" r="3.55"/>
<circle cx="1328.6" cy="282.7" r="3.55"/>
<circle cx="1344.3" cy="285.6" r="3.55"/>
<circle cx="1481.4" cy="226.2" r="3.55"/>
<circle cx="1481.4" cy="245.6" r="3.55"/>
<circle cx="1481.4" cy="262.1" r="3.55"/>
<circle cx="1473.7" cy="273.1" r="3.55"/>
<circle cx="1489.4" cy="280.8" r="3.55"/>
<circle cx="1473.7" cy="308.5" r="3.55"/>
<circle cx="1489.4" cy="310.3" r="3.55"/>
<circle cx="1481.4" cy="344.4" r="3.55"/>
<circle cx="1559.4" cy="66.4" r="3.55"/>
<circle cx="1567.3" cy="80.0" r="3.55"/>
<circle cx="1551.7" cy="87.2" r="3.55"/>
<circle cx="1551.7" cy="99.5" r="3.55"/>
<circle cx="1567.3" cy="99.5" r="3.55"/>
<circle cx="1551.7" cy="116.2" r="3.55"/>
<circle cx="1559.4" cy="116.2" r="3.55"/>
<circle cx="1567.3" cy="118.2" r="3.55"/>
<circle cx="1704.4" cy="186.9" r="3.55"/>
<circle cx="1704.4" cy="197.4" r="3.55"/>
<circle cx="1704.4" cy="244.4" r="3.55"/>
<circle cx="1704.4" cy="253.8" r="3.55"/>
<circle cx="1696.4" cy="268.5" r="3.55"/>
<circle cx="1712.3" cy="269.5" r="3.55"/>
<circle cx="1704.4" cy="271.3" r="3.55"/>
<circle cx="1704.4" cy="285.9" r="3.55"/>
<circle cx="1774.6" cy="231.5" r="3.55"/>
<circle cx="1790.3" cy="232.8" r="3.55"/>
<circle cx="1774.6" cy="243.6" r="3.55"/>
<circle cx="1790.3" cy="249.2" r="3.55"/>
<circle cx="1782.3" cy="259.0" r="3.55"/>
<circle cx="1782.3" cy="278.5" r="3.55"/>
<circle cx="1782.3" cy="292.1" r="3.55"/>
<circle cx="1782.3" cy="303.1" r="3.55"/>
<circle cx="1919.5" cy="170.3" r="3.55"/>
<circle cx="1935.4" cy="176.7" r="3.55"/>
<circle cx="1927.4" cy="183.6" r="3.55"/>
<circle cx="1927.4" cy="221.0" r="3.55"/>
<circle cx="1919.5" cy="314.4" r="3.55"/>
<circle cx="1935.4" cy="315.6" r="3.55"/>
<circle cx="1927.4" cy="329.0" r="3.55"/>
<circle cx="1927.4" cy="367.2" r="3.55"/>
<circle cx="2005.4" cy="168.5" r="3.55"/>
<circle cx="2005.4" cy="199.2" r="3.55"/>
<circle cx="2005.4" cy="215.4" r="3.55"/>
<circle cx="2005.4" cy="228.2" r="3.55"/>
<circle cx="2005.4" cy="306.9" r="3.55"/>
<circle cx="2005.4" cy="323.8" r="3.55"/>
<circle cx="2005.4" cy="342.3" r="3.55"/>
<circle cx="2005.4" cy="353.8" r="3.55"/>
</g>
<g transform="translate(368.4 535.9)">
<use href="#brain"/>
<path d="M117.8 32.6C121.2 31.4 128.5 31.2 131.1 32.3C133.6 33.5 132.8 36.1 133.1 39.5C133.5 42.9 133.3 48.5 133.1 52.7C132.9 57.0 133.1 61.0 132.1 65.0C131.1 68.9 128.9 73.1 127.0 76.2C125.1 79.2 123.3 81.9 120.9 83.3C118.5 84.7 115.5 85.0 112.7 84.3C110.0 83.6 106.6 81.6 104.6 79.2C102.5 76.8 101.3 73.3 100.5 70.0C99.7 66.8 99.3 63.4 100.0 59.9C100.7 56.3 102.8 52.0 104.6 48.6C106.4 45.3 108.5 42.2 110.7 39.5C112.9 36.8 114.4 33.7 117.8 32.6Z" fill="#29ABE2" fill-opacity="0.86" stroke="none" stroke-width="0"/>
<path d="M125.0 68.0C127.0 66.5 128.4 65.3 133.1 65.0C137.9 64.6 149.9 63.4 153.5 66.0C157.1 68.5 155.2 77.2 154.5 80.2C153.8 83.3 152.0 83.3 149.4 84.3C146.9 85.3 142.6 85.3 139.2 86.4C135.8 87.4 131.9 90.1 129.0 90.4C126.2 90.8 123.6 89.7 121.9 88.4C120.2 87.0 119.0 84.7 118.9 82.3C118.7 79.9 119.9 76.5 120.9 74.1C121.9 71.7 122.9 69.5 125.0 68.0Z" fill="#29ABE2" fill-opacity="0.8" stroke="none" stroke-width="0"/>
<rect x="157.1" y="29.3" width="21.9" height="62.2" rx="6.5" fill="#29ABE2" fill-opacity="0.88" stroke="#25668A" stroke-width="0.9"/>
<rect x="154.5" y="62.4" width="23.4" height="29.0" rx="5" fill="#29ABE2" fill-opacity="0.35" stroke="#25668A" stroke-width="0.9"/>
<path d="M139.2 41.0C141.4 39.1 146.4 38.7 149.4 38.5C152.4 38.2 155.7 37.1 157.1 39.5C158.4 41.9 157.7 48.6 157.6 52.7C157.5 56.8 158.3 61.6 156.6 63.9C154.9 66.2 150.4 66.3 147.4 66.5C144.3 66.7 140.2 65.7 138.2 65.0C136.2 64.2 135.5 64.4 135.2 61.9C134.8 59.3 135.5 53.1 136.2 49.7C136.9 46.2 137.0 42.9 139.2 41.0Z" fill="#29ABE2" fill-opacity="0.8" stroke="#25668A" stroke-width="0.9"/>
<path d="M183.0 36.4C185.4 34.6 190.2 34.0 194.3 33.4C198.3 32.7 203.8 31.7 207.5 32.3C211.2 33.0 214.6 35.4 216.7 37.4C218.7 39.5 220.1 42.0 219.7 44.6C219.4 47.1 216.5 49.5 214.6 52.7C212.8 56.0 210.2 60.0 208.5 63.9C206.8 67.8 206.0 72.6 204.4 76.2C202.9 79.7 201.4 83.3 199.3 85.3C197.3 87.4 195.1 88.0 192.2 88.4C189.3 88.7 184.3 88.7 182.0 87.4C179.7 86.0 179.0 84.8 178.5 80.2C178.0 75.7 178.7 65.8 179.0 59.9C179.2 53.9 179.3 48.5 180.0 44.6C180.7 40.7 180.7 38.3 183.0 36.4Z" fill="#29ABE2" fill-opacity="0.9" stroke="#25668A" stroke-width="0.9"/>
<path d="M213.6 72.1C214.3 67.7 215.8 62.9 218.7 59.9C221.6 56.8 226.5 54.8 230.9 53.7C235.4 52.7 241.5 52.4 245.2 53.7C248.9 55.1 251.3 58.8 252.8 61.9C254.4 65.0 254.5 68.7 254.4 72.1C254.3 75.5 253.5 79.0 252.3 82.3C251.1 85.5 249.4 88.8 247.2 91.4C245.0 94.1 242.1 96.7 239.1 98.1C236.0 99.4 232.1 100.0 228.9 99.6C225.7 99.2 222.1 97.7 219.7 95.5C217.3 93.3 215.7 90.3 214.6 86.4C213.6 82.4 212.9 76.5 213.6 72.1Z" fill="#29ABE2" fill-opacity="0.82" stroke="#25668A" stroke-width="0.9"/>
<path d="M208.5 52.7C210.6 50.0 215.1 45.4 218.7 43.6C222.3 41.7 226.0 41.2 229.9 41.5C233.8 41.9 238.9 43.6 242.1 45.6C245.4 47.6 247.7 50.5 249.3 53.7C250.8 57.0 251.5 61.2 251.3 65.0C251.1 68.7 250.1 72.9 248.3 76.2C246.4 79.4 243.3 82.1 240.1 84.3C236.9 86.5 232.5 89.1 228.9 89.4C225.3 89.7 221.4 87.9 218.7 86.4C216.0 84.8 214.3 83.0 212.6 80.2C210.9 77.5 209.5 73.4 208.5 70.0C207.5 66.7 206.5 62.7 206.5 59.9C206.5 57.0 206.5 55.4 208.5 52.7Z" fill="#29ABE2" fill-opacity="0.72" stroke="#25668A" stroke-width="0.9"/>
</g>
<text transform="translate(484.4 601.7) scale(0.966 1)" font-size="21.3" text-anchor="middle" fill="#D6F6FC">α1</text>
<text transform="translate(521.2 593.8) scale(0.966 1)" font-size="21.3" text-anchor="middle" fill="#D6F6FC">β′1</text>
<text transform="translate(504.6 621.8) scale(0.966 1)" font-size="21.3" text-anchor="middle" fill="#D6F6FC">β1</text>
<text transform="translate(534.4 616.6) scale(0.966 1)" font-size="21.3" text-anchor="middle" fill="#D6F6FC">γ3</text>
<text transform="translate(563.3 602.6) scale(0.966 1)" font-size="21.3" text-anchor="middle" fill="#D6F6FC">γ4</text>
<text transform="translate(593.2 598.2) scale(0.966 1)" font-size="21.3" text-anchor="middle" fill="#D6F6FC">β′2</text>
<text transform="translate(601.9 618.3) scale(0.966 1)" font-size="21.3" text-anchor="middle" fill="#D6F6FC">γ5</text>
<text transform="translate(486.3 687.6) scale(0.966 1)" font-size="23.6" text-anchor="middle" fill="#2BA6DA">UAS-CsChr/</text>
<text transform="translate(486.3 715.2) scale(0.966 1)" font-size="23.6" text-anchor="middle" fill="#2BA6DA">MB042B</text>
<text transform="translate(486.3 742.9) scale(0.966 1)" font-size="23.6" text-anchor="middle">23 °C Starved</text>
<text transform="translate(615.6 685.9) scale(0.966 1)" font-size="23.6" text-anchor="middle">90 V</text>
<line x1="585.3" y1="696.5" x2="646.7" y2="696.5" stroke="#000" stroke-width="2.0"/>
<text transform="translate(615.8 724.5) scale(0.966 1)" font-size="23.6" text-anchor="middle">CS+</text>
<path d="M616.0 732.4L628.8 745.2H618.3V756.1H613.7V745.2H603.2Z" fill="#000"/>
<line x1="382.8" y1="794.0" x2="660.2" y2="794.0" stroke="#000" stroke-width="2.0"/>
<path d="M401.2 794.0V756.1H477.0V794.0" fill="none" stroke="#000" stroke-width="2.1"/>
<text transform="translate(439.1 783.3) scale(0.966 1)" font-size="23.6" text-anchor="middle">CS−</text>
<path d="M496.2 794.0V756.1H572.1V794.0" fill="none" stroke="#000" stroke-width="2.1"/>
<text transform="translate(534.1 783.3) scale(0.966 1)" font-size="23.6" text-anchor="middle">CS+</text>
<path d="M590.7 794.0V756.1H641.1V794.0" fill="none" stroke="#000" stroke-width="2.1"/>
<text transform="translate(615.9 783.3) scale(0.966 1)" font-size="23.6" text-anchor="middle">Test</text>
<line x1="496.2" y1="800.5" x2="572.1" y2="800.5" stroke="#000" stroke-width="2.0"/>
<text transform="translate(534.5 824.5) scale(0.966 1)" font-size="23.6" text-anchor="middle">Red Light</text>
<path d="M616.0 817.3L628.8 804.9H618.3V794.0H613.7V804.9H603.2Z" fill="#000"/>
<text transform="translate(616.0 842.9) scale(0.966 1)" font-size="23.6" text-anchor="middle">CS−</text>
<line x1="403.2" y1="859.4" x2="639.1" y2="859.4" stroke="#000" stroke-width="1.1"/>
<path d="M401.2 859.4L408.4 856.1V862.7ZM477.0 859.4L469.8 856.1V862.7ZM477.0 859.4L484.2 856.1V862.7ZM496.2 859.4L489.0 856.1V862.7ZM496.2 859.4L503.4 856.1V862.7ZM572.1 859.4L564.9 856.1V862.7ZM572.1 859.4L579.3 856.1V862.7ZM590.7 859.4L583.5 856.1V862.7ZM590.7 859.4L597.9 856.1V862.7ZM641.1 859.4L633.9 856.1V862.7Z" fill="#000"/>
<text transform="translate(439.3 886.1) scale(0.966 1)" font-size="23.6" text-anchor="middle">120</text>
<text transform="translate(486.6 886.1) scale(0.966 1)" font-size="23.6" text-anchor="middle">30</text>
<text transform="translate(534.1 886.1) scale(0.966 1)" font-size="23.6" text-anchor="middle">120</text>
<text transform="translate(581.0 886.1) scale(0.966 1)" font-size="23.6" text-anchor="middle">30</text>
<text transform="translate(615.8 886.1) scale(0.966 1)" font-size="23.6" text-anchor="middle">60</text>
<text transform="translate(654.2 886.1) scale(0.966 1)" font-size="23.6" text-anchor="middle">(s)</text>
<rect x="843.1" y="553.5" width="145.9" height="76.8" fill="#E6E7E8"/>
<rect x="790.1" y="604.3" width="35.2" height="26.0" fill="#00B7F0"/>
<rect x="860.9" y="630.3" width="35.3" height="191.4" fill="#00B7F0"/>
<rect x="932.0" y="630.3" width="35.2" height="206.6" fill="#00B7F0"/>
<line x1="768.5" y1="630.3" x2="989.0" y2="630.3" stroke="#111" stroke-width="1.3"/>
<text transform="translate(760.5 587.2) scale(0.966 1)" font-size="25.8" text-anchor="end">0.2</text>
<text transform="translate(760.5 638.3) scale(0.966 1)" font-size="25.8" text-anchor="end">0</text>
<text transform="translate(760.5 689.2) scale(0.966 1)" font-size="25.8" text-anchor="end">-0.2</text>
<text transform="translate(760.5 740.1) scale(0.966 1)" font-size="25.8" text-anchor="end">-0.4</text>
<text transform="translate(760.5 791.0) scale(0.966 1)" font-size="25.8" text-anchor="end">-0.6</text>
<text transform="translate(760.5 841.9) scale(0.966 1)" font-size="25.8" text-anchor="end">-0.8</text>
<text transform="translate(760.5 892.6) scale(0.966 1)" font-size="25.8" text-anchor="end">-1</text>
<path d="M768.5 553.8V885.2M762.8 579.2H768.5M762.8 630.3H768.5M762.8 681.2H768.5M762.8 732.1H768.5M762.8 783.0H768.5M762.8 833.9H768.5M762.8 884.6H768.5" fill="none" stroke="#333" stroke-width="1.3"/>
<text transform="translate(704.3 727.0) rotate(-90) scale(0.966 1)" font-size="30.2" text-anchor="middle">Performance Index (PI)</text>
<text transform="translate(807.4 546.0) scale(0.966 1)" font-size="24.3" text-anchor="middle">a</text>
<text transform="translate(878.5 546.0) scale(0.966 1)" font-size="24.3" text-anchor="middle">b</text>
<text transform="translate(949.5 546.0) scale(0.966 1)" font-size="24.3" text-anchor="middle">b</text>
<text transform="translate(916.2 576.7) scale(0.966 1)" font-size="21.3" text-anchor="middle">90 V</text>
<line x1="851.0" y1="569.2" x2="889.4" y2="569.2" stroke="#000" stroke-width="1.2"/>
<line x1="941.9" y1="569.2" x2="981.0" y2="569.2" stroke="#000" stroke-width="1.2"/>
<path d="M843.1 569.2L852.3 564.2V574.2ZM989.0 569.2L979.8 564.2V574.2Z" fill="#000"/>
<path d="M798.8 596.8H816.0M798.8 612.1H816.0M807.4 596.8V612.1" fill="none" stroke="#000" stroke-width="1.9"/>
<path d="M869.9 816.7H887.1M869.9 825.0H887.1M878.5 816.7V825.0" fill="none" stroke="#000" stroke-width="1.9"/>
<path d="M940.8 831.7H958.0M940.8 841.4H958.0M949.4 831.7V841.4" fill="none" stroke="#000" stroke-width="1.9"/>
<g fill="#B3B3B3" stroke="#222" stroke-width="1.35">
<circle cx="807.6" cy="574.3" r="3.55"/>
<circle cx="819.1" cy="582.5" r="3.55"/>
<circle cx="796.0" cy="585.8" r="3.55"/>
<circle cx="807.6" cy="598.7" r="3.55"/>
<circle cx="807.6" cy="617.6" r="3.55"/>
<circle cx="807.6" cy="623.8" r="3.55"/>
<circle cx="819.1" cy="624.6" r="3.55"/>
<circle cx="796.0" cy="627.9" r="3.55"/>
<circle cx="878.5" cy="802.3" r="3.55"/>
<circle cx="888.4" cy="810.9" r="3.55"/>
<circle cx="868.6" cy="815.1" r="3.55"/>
<circle cx="878.5" cy="820.8" r="3.55"/>
<circle cx="871.1" cy="822.9" r="3.55"/>
<circle cx="886.1" cy="825.0" r="3.55"/>
<circle cx="878.5" cy="829.7" r="3.55"/>
<circle cx="878.5" cy="845.7" r="3.55"/>
<circle cx="937.9" cy="825.8" r="3.55"/>
<circle cx="949.4" cy="823.7" r="3.55"/>
<circle cx="961.1" cy="825.4" r="3.55"/>
<circle cx="937.9" cy="835.9" r="3.55"/>
<circle cx="961.1" cy="834.4" r="3.55"/>
<circle cx="941.2" cy="843.7" r="3.55"/>
<circle cx="958.0" cy="841.0" r="3.55"/>
<circle cx="949.4" cy="868.0" r="3.55"/>
</g>
<text transform="translate(768.2 924.7) scale(0.966 1)" font-size="25.8" text-anchor="end">Train Red Light</text>
<text transform="translate(768.2 962.8) scale(0.966 1)" font-size="25.8" text-anchor="end">Test 90 V Shock</text>
<text transform="translate(807.4 925.3) scale(0.966 1)" font-size="25.8" text-anchor="middle">+</text>
<text transform="translate(878.5 925.3) scale(0.966 1)" font-size="25.8" text-anchor="middle">+</text>
<text transform="translate(878.5 963.3) scale(0.966 1)" font-size="25.8" text-anchor="middle">+</text>
<text transform="translate(949.5 963.3) scale(0.966 1)" font-size="25.8" text-anchor="middle">+</text>
<g transform="translate(1091.5 535.9)">
<use href="#brain"/>
<path d="M57.6 85.2C58.3 82.6 60.6 80.8 64.3 79.1C68.0 77.4 75.0 75.1 80.0 74.9C85.0 74.7 90.8 76.2 94.6 77.9C98.4 79.6 101.4 82.6 103.1 85.2C104.8 87.8 105.3 90.9 104.9 93.7C104.5 96.5 103.0 99.9 100.7 102.2C98.4 104.5 94.5 106.6 91.0 107.6C87.5 108.6 83.8 109.0 80.0 108.3C76.2 107.6 71.2 105.6 67.9 103.4C64.6 101.2 61.7 97.9 60.0 94.9C58.3 91.9 56.9 87.8 57.6 85.2Z" fill="#29ABE2" fill-opacity="0.78" stroke="#2E6F8E" stroke-width="1.3"/>
<path d="M116.0 39.1C118.3 38.6 121.4 39.2 124.9 39.4C128.4 39.6 132.9 40.5 137.0 40.3C141.1 40.1 146.8 38.2 149.5 38.2C152.2 38.2 152.2 38.5 152.9 40.5C153.6 42.5 153.4 45.0 153.4 50.0C153.4 55.0 153.2 65.0 152.8 70.7C152.4 76.4 152.0 80.6 151.0 84.0C150.0 87.4 149.0 89.7 146.7 91.3C144.4 92.9 140.6 93.5 137.0 93.7C133.4 93.9 128.5 93.5 124.9 92.5C121.3 91.5 118.1 90.0 115.2 87.6C112.3 85.2 109.3 81.5 107.3 77.9C105.3 74.3 103.3 70.2 103.1 65.8C102.8 61.3 104.4 55.1 105.8 51.2C107.2 47.3 109.5 44.6 111.2 42.6C112.9 40.6 113.7 39.6 116.0 39.1Z" fill="#29ABE2" fill-opacity="0.78" stroke="#2E6F8E" stroke-width="1.3"/>
<path d="M104.2 89.4C105.5 89.4 109.4 89.5 112.0 89.3C114.6 89.1 117.4 88.9 120.0 88.2C122.6 87.5 125.0 86.3 127.5 85.0C130.1 83.7 133.1 81.7 135.3 80.2C137.6 78.7 139.1 77.4 141.0 76.2C142.9 75.0 144.6 73.9 146.5 73.1C148.4 72.3 150.5 71.9 152.5 71.3C154.5 70.7 156.8 70.4 158.7 69.6C160.6 68.8 162.3 67.6 164.0 66.5C165.7 65.4 167.2 64.1 168.9 62.9C170.7 61.7 172.6 60.4 174.5 59.3C176.4 58.2 179.2 56.8 180.1 56.3" fill="none" stroke="#3E5561" stroke-width="1.2"/>
<path d="M154 51.6C162 52.4 172 52.6 180.1 52.6" fill="none" stroke="#3E5561" stroke-width="1.2"/>
<path d="M163.6 50.4L167.6 52.3L163.6 54.2Z" fill="#3E5561"/>
<path d="M144.2 72.2L148.4 72.2L145.6 75.2Z" fill="#3E5561"/>
<path d="M221.9 41.0C224.9 39.7 228.7 39.6 232.1 40.0C235.5 40.4 239.3 41.6 242.3 43.6C245.3 45.6 248.0 48.7 249.9 51.7C251.8 54.8 253.1 58.5 253.5 61.9C253.9 65.3 253.5 68.9 252.5 72.1C251.5 75.3 249.6 78.8 247.4 81.3C245.2 83.8 242.4 85.9 239.2 87.4C236.0 88.9 231.2 90.2 228.0 90.4C224.8 90.6 222.3 89.8 219.9 88.4C217.5 87.1 215.6 84.7 213.8 82.3C212.0 79.9 210.3 77.0 209.2 74.1C208.1 71.2 207.2 68.0 207.1 65.0C207.0 62.0 207.6 58.7 208.7 55.8C209.8 52.9 211.6 50.1 213.8 47.6C216.0 45.1 218.9 42.3 221.9 41.0Z" fill="#29ABE2" fill-opacity="0.74" stroke="#2E6F8E" stroke-width="1.3"/>
<path d="M185.6 33.7C189.8 32.6 202.2 31.7 207.4 32.4C212.7 33.1 214.7 35.8 217.1 37.9C219.5 40.0 221.8 42.4 222.0 45.2C222.2 48.0 220.3 51.3 218.3 54.9C216.3 58.5 212.2 62.5 209.8 67.0C207.4 71.5 206.0 78.2 203.8 81.6C201.6 85.0 199.5 86.6 196.5 87.6C193.5 88.6 188.3 88.2 185.6 87.6C182.9 87.0 181.1 86.8 180.1 84.0C179.1 81.2 179.4 76.0 179.5 70.7C179.6 65.5 180.3 57.8 180.7 52.5C181.1 47.2 181.1 42.2 181.9 39.1C182.7 36.0 181.3 34.8 185.6 33.7Z" fill="#29ABE2" fill-opacity="0.74" stroke="#2E6F8E" stroke-width="1.3"/>
</g>
<text transform="translate(1173.7 635.3) scale(0.966 1)" font-size="21.3" text-anchor="middle" fill="#D6F6FC">γ1</text>
<text transform="translate(1220.2 606.9) scale(0.966 1)" font-size="21.3" text-anchor="middle" fill="#D6F6FC">γ2</text>
<text transform="translate(1286.8 602.6) scale(0.966 1)" font-size="21.3" text-anchor="middle" fill="#D6F6FC">γ4</text>
<text transform="translate(1325.4 607.8) scale(0.966 1)" font-size="21.3" text-anchor="middle" fill="#D6F6FC">β′2</text>
<text transform="translate(1209.4 687.6) scale(0.966 1)" font-size="23.6" text-anchor="middle" fill="#2BA6DA">UAS-CsChr/</text>
<text transform="translate(1209.4 715.2) scale(0.966 1)" font-size="23.6" text-anchor="middle" fill="#2BA6DA">MB316B</text>
<text transform="translate(1209.4 742.9) scale(0.966 1)" font-size="23.6" text-anchor="middle">23 °C Starved</text>
<text transform="translate(1338.7 685.9) scale(0.966 1)" font-size="23.6" text-anchor="middle">90 V</text>
<line x1="1308.4" y1="696.5" x2="1369.8" y2="696.5" stroke="#000" stroke-width="2.0"/>
<text transform="translate(1338.9 724.5) scale(0.966 1)" font-size="23.6" text-anchor="middle">CS+</text>
<path d="M1339.1 732.4L1351.9 745.2H1341.4V756.1H1336.8V745.2H1326.3Z" fill="#000"/>
<line x1="1105.9" y1="794.0" x2="1383.3" y2="794.0" stroke="#000" stroke-width="2.0"/>
<path d="M1124.3 794.0V756.1H1200.1V794.0" fill="none" stroke="#000" stroke-width="2.1"/>
<text transform="translate(1162.2 783.3) scale(0.966 1)" font-size="23.6" text-anchor="middle">CS−</text>
<path d="M1219.3 794.0V756.1H1295.2V794.0" fill="none" stroke="#000" stroke-width="2.1"/>
<text transform="translate(1257.2 783.3) scale(0.966 1)" font-size="23.6" text-anchor="middle">CS+</text>
<path d="M1313.8 794.0V756.1H1364.2V794.0" fill="none" stroke="#000" stroke-width="2.1"/>
<text transform="translate(1339.0 783.3) scale(0.966 1)" font-size="23.6" text-anchor="middle">Test</text>
<line x1="1219.3" y1="800.5" x2="1295.2" y2="800.5" stroke="#000" stroke-width="2.0"/>
<text transform="translate(1257.6 824.5) scale(0.966 1)" font-size="23.6" text-anchor="middle">Red Light</text>
<path d="M1339.1 817.3L1351.9 804.9H1341.4V794.0H1336.8V804.9H1326.3Z" fill="#000"/>
<text transform="translate(1339.1 842.9) scale(0.966 1)" font-size="23.6" text-anchor="middle">CS−</text>
<line x1="1126.3" y1="859.4" x2="1362.2" y2="859.4" stroke="#000" stroke-width="1.1"/>
<path d="M1124.3 859.4L1131.5 856.1V862.7ZM1200.1 859.4L1192.9 856.1V862.7ZM1200.1 859.4L1207.3 856.1V862.7ZM1219.3 859.4L1212.1 856.1V862.7ZM1219.3 859.4L1226.5 856.1V862.7ZM1295.2 859.4L1288.0 856.1V862.7ZM1295.2 859.4L1302.4 856.1V862.7ZM1313.8 859.4L1306.6 856.1V862.7ZM1313.8 859.4L1321.0 856.1V862.7ZM1364.2 859.4L1357.0 856.1V862.7Z" fill="#000"/>
<text transform="translate(1162.4 886.1) scale(0.966 1)" font-size="23.6" text-anchor="middle">120</text>
<text transform="translate(1209.7 886.1) scale(0.966 1)" font-size="23.6" text-anchor="middle">30</text>
<text transform="translate(1257.2 886.1) scale(0.966 1)" font-size="23.6" text-anchor="middle">120</text>
<text transform="translate(1304.1 886.1) scale(0.966 1)" font-size="23.6" text-anchor="middle">30</text>
<text transform="translate(1338.9 886.1) scale(0.966 1)" font-size="23.6" text-anchor="middle">60</text>
<text transform="translate(1377.3 886.1) scale(0.966 1)" font-size="23.6" text-anchor="middle">(s)</text>
<rect x="1566.2" y="553.5" width="145.9" height="76.8" fill="#E6E7E8"/>
<rect x="1513.2" y="616.1" width="35.6" height="14.2" fill="#00B7F0"/>
<rect x="1584.0" y="630.3" width="35.6" height="199.4" fill="#00B7F0"/>
<rect x="1655.3" y="630.3" width="35.3" height="206.6" fill="#00B7F0"/>
<line x1="1491.6" y1="630.3" x2="1712.1" y2="630.3" stroke="#111" stroke-width="1.3"/>
<text transform="translate(1483.6 587.2) scale(0.966 1)" font-size="25.8" text-anchor="end">0.2</text>
<text transform="translate(1483.6 638.3) scale(0.966 1)" font-size="25.8" text-anchor="end">0</text>
<text transform="translate(1483.6 689.2) scale(0.966 1)" font-size="25.8" text-anchor="end">-0.2</text>
<text transform="translate(1483.6 740.1) scale(0.966 1)" font-size="25.8" text-anchor="end">-0.4</text>
<text transform="translate(1483.6 791.0) scale(0.966 1)" font-size="25.8" text-anchor="end">-0.6</text>
<text transform="translate(1483.6 841.9) scale(0.966 1)" font-size="25.8" text-anchor="end">-0.8</text>
<text transform="translate(1483.6 892.6) scale(0.966 1)" font-size="25.8" text-anchor="end">-1</text>
<path d="M1491.6 553.8V885.2M1485.9 579.2H1491.6M1485.9 630.3H1491.6M1485.9 681.2H1491.6M1485.9 732.1H1491.6M1485.9 783.0H1491.6M1485.9 833.9H1491.6M1485.9 884.6H1491.6" fill="none" stroke="#333" stroke-width="1.3"/>
<text transform="translate(1427.4 727.0) rotate(-90) scale(0.966 1)" font-size="30.2" text-anchor="middle">Performance Index (PI)</text>
<text transform="translate(1530.5 546.0) scale(0.966 1)" font-size="24.3" text-anchor="middle">a</text>
<text transform="translate(1601.6 546.0) scale(0.966 1)" font-size="24.3" text-anchor="middle">b</text>
<text transform="translate(1672.6 546.0) scale(0.966 1)" font-size="24.3" text-anchor="middle">b</text>
<text transform="translate(1639.3 576.7) scale(0.966 1)" font-size="21.3" text-anchor="middle">90 V</text>
<line x1="1574.1" y1="569.2" x2="1612.5" y2="569.2" stroke="#000" stroke-width="1.2"/>
<line x1="1665.0" y1="569.2" x2="1704.1" y2="569.2" stroke="#000" stroke-width="1.2"/>
<path d="M1566.2 569.2L1575.4 564.2V574.2ZM1712.1 569.2L1702.9 564.2V574.2Z" fill="#000"/>
<path d="M1522.3 609.6H1539.5M1522.3 622.1H1539.5M1530.9 609.6V622.1" fill="none" stroke="#000" stroke-width="1.9"/>
<path d="M1593.1 822.5H1610.3M1593.1 837.3H1610.3M1601.7 822.5V837.3" fill="none" stroke="#000" stroke-width="1.9"/>
<path d="M1664.2 833.8H1681.4M1664.2 838.5H1681.4M1672.8 833.8V838.5" fill="none" stroke="#000" stroke-width="1.9"/>
<g fill="#B3B3B3" stroke="#222" stroke-width="1.35">
<circle cx="1519.4" cy="594.3" r="3.55"/>
<circle cx="1542.7" cy="598.8" r="3.55"/>
<circle cx="1530.9" cy="607.2" r="3.55"/>
<circle cx="1519.4" cy="611.5" r="3.55"/>
<circle cx="1542.7" cy="608.7" r="3.55"/>
<circle cx="1530.9" cy="631.9" r="3.55"/>
<circle cx="1519.4" cy="635.6" r="3.55"/>
<circle cx="1542.7" cy="639.7" r="3.55"/>
<circle cx="1601.7" cy="799.8" r="3.55"/>
<circle cx="1601.7" cy="812.6" r="3.55"/>
<circle cx="1590.1" cy="817.5" r="3.55"/>
<circle cx="1613.5" cy="818.1" r="3.55"/>
<circle cx="1601.7" cy="831.6" r="3.55"/>
<circle cx="1590.1" cy="848.5" r="3.55"/>
<circle cx="1601.7" cy="855.5" r="3.55"/>
<circle cx="1613.5" cy="855.5" r="3.55"/>
<circle cx="1672.8" cy="818.4" r="3.55"/>
<circle cx="1672.8" cy="826.0" r="3.55"/>
<circle cx="1666.2" cy="838.7" r="3.55"/>
<circle cx="1673.3" cy="839.2" r="3.55"/>
<circle cx="1680.8" cy="838.7" r="3.55"/>
<circle cx="1660.6" cy="841.9" r="3.55"/>
<circle cx="1685.0" cy="845.2" r="3.55"/>
<circle cx="1672.8" cy="850.8" r="3.55"/>
</g>
<text transform="translate(1491.3 924.7) scale(0.966 1)" font-size="25.8" text-anchor="end">Train Red Light</text>
<text transform="translate(1491.3 962.8) scale(0.966 1)" font-size="25.8" text-anchor="end">Test 90 V Shock</text>
<text transform="translate(1530.5 925.3) scale(0.966 1)" font-size="25.8" text-anchor="middle">+</text>
<text transform="translate(1601.6 925.3) scale(0.966 1)" font-size="25.8" text-anchor="middle">+</text>
<text transform="translate(1601.6 963.3) scale(0.966 1)" font-size="25.8" text-anchor="middle">+</text>
<text transform="translate(1672.6 963.3) scale(0.966 1)" font-size="25.8" text-anchor="middle">+</text>
<text transform="translate(137.3 1126.9) scale(0.966 1)" font-size="23.6" text-anchor="middle" fill="#2A78B2">UAS-CsChr/</text>
<text transform="translate(137.3 1154.1) scale(0.966 1)" font-size="23.6" text-anchor="middle" fill="#2A78B2">R15A04-GAL80;</text>
<text transform="translate(137.3 1181.6) scale(0.966 1)" font-size="23.6" text-anchor="middle" fill="#2A78B2">R48B04-GAL4</text>
<text transform="translate(137.3 1209.2) scale(0.966 1)" font-size="23.6" text-anchor="middle">23 °C Starved</text>
<line x1="33.2" y1="1260.5" x2="366.7" y2="1260.5" stroke="#000" stroke-width="2.0"/>
<path d="M52.1 1260.5V1223.0H128.1V1260.5" fill="none" stroke="#000" stroke-width="2.1"/>
<text transform="translate(90.1 1250.3) scale(0.966 1)" font-size="23.6" text-anchor="middle">CS−</text>
<path d="M146.7 1260.5V1223.0H223.0V1260.5" fill="none" stroke="#000" stroke-width="2.1"/>
<text transform="translate(184.8 1250.3) scale(0.966 1)" font-size="23.6" text-anchor="middle">CS+</text>
<path d="M241.3 1260.5V1223.0H347.8V1260.5" fill="none" stroke="#000" stroke-width="2.1"/>
<text transform="translate(294.6 1250.3) scale(0.966 1)" font-size="23.6" text-anchor="middle">First Test</text>
<line x1="146.7" y1="1267.1" x2="223.0" y2="1267.1" stroke="#000" stroke-width="2.0"/>
<text transform="translate(185.4 1291.2) scale(0.966 1)" font-size="23.6" text-anchor="middle">Red Light</text>
<text transform="translate(294.6 1152.8) scale(0.966 1)" font-size="23.6" text-anchor="middle">90 V</text>
<line x1="263.9" y1="1162.6" x2="325.3" y2="1162.6" stroke="#000" stroke-width="2.0"/>
<text transform="translate(294.4 1190.9) scale(0.966 1)" font-size="23.6" text-anchor="middle">CS+</text>
<path d="M294.4 1199.8L307.2 1211.7H296.7V1223.0H292.1V1211.7H281.6Z" fill="#000"/>
<path d="M294.4 1283.7L307.2 1271.4H296.7V1260.5H292.1V1271.4H281.6Z" fill="#000"/>
<text transform="translate(294.4 1309.4) scale(0.966 1)" font-size="23.6" text-anchor="middle">CS−</text>
<line x1="54.1" y1="1326.2" x2="345.8" y2="1326.2" stroke="#000" stroke-width="1.1"/>
<path d="M52.1 1326.2L59.3 1322.9V1329.5ZM128.1 1326.2L120.9 1322.9V1329.5ZM128.1 1326.2L135.3 1322.9V1329.5ZM146.7 1326.2L139.5 1322.9V1329.5ZM146.7 1326.2L153.9 1322.9V1329.5ZM223.0 1326.2L215.8 1322.9V1329.5ZM223.0 1326.2L230.2 1322.9V1329.5ZM241.3 1326.2L234.1 1322.9V1329.5ZM241.3 1326.2L248.5 1322.9V1329.5ZM347.8 1326.2L340.6 1322.9V1329.5Z" fill="#000"/>
<text transform="translate(90.3 1352.6) scale(0.966 1)" font-size="23.6" text-anchor="middle">120</text>
<text transform="translate(137.1 1352.6) scale(0.966 1)" font-size="23.6" text-anchor="middle">30</text>
<text transform="translate(184.9 1352.6) scale(0.966 1)" font-size="23.6" text-anchor="middle">120</text>
<text transform="translate(231.7 1352.6) scale(0.966 1)" font-size="23.6" text-anchor="middle">30</text>
<text transform="translate(294.4 1352.6) scale(0.966 1)" font-size="23.6" text-anchor="middle">60</text>
<text transform="translate(184.9 1379.1) scale(0.966 1)" font-size="23.6" text-anchor="middle">Time (s)</text>
<text transform="translate(347.6 1110.3) scale(0.966 1)" font-size="23.6" text-anchor="middle">30 s</text>
<text transform="translate(346.8 1384.1) scale(0.966 1)" font-size="23.6" text-anchor="middle">30 s</text>
<path d="M346.9 1177.7H365.1V1120.3H385" fill="none" stroke="#000" stroke-width="3.5"/>
<path d="M383.9 1108L396.9 1120.3L383.9 1132.6Z" fill="#000"/>
<path d="M346.9 1298.4H365.1V1357H385" fill="none" stroke="#000" stroke-width="3.5"/>
<path d="M383.9 1344.7L396.9 1357L383.9 1369.3Z" fill="#000"/>
<text transform="translate(480.5 1033.3) scale(0.966 1)" font-size="23.6" text-anchor="middle">90 V</text>
<line x1="450.3" y1="1042.9" x2="511.4" y2="1042.9" stroke="#000" stroke-width="2.0"/>
<text transform="translate(480.5 1070.7) scale(0.966 1)" font-size="23.6" text-anchor="middle">CS+</text>
<path d="M480.5 1079.0L493.3 1092.0H482.8V1102.7H478.2V1092.0H467.7Z" fill="#000"/>
<line x1="397.3" y1="1140.8" x2="564.7" y2="1140.8" stroke="#000" stroke-width="2.0"/>
<path d="M415.5 1140.8V1102.7H546.2V1140.8" fill="none" stroke="#000" stroke-width="2.1"/>
<text transform="translate(480.9 1129.9) scale(0.966 1)" font-size="23.6" text-anchor="middle">Retest CS+</text>
<path d="M480.5 1164.2L493.3 1152.1H482.8V1140.8H478.2V1152.1H467.7Z" fill="#000"/>
<text transform="translate(480.5 1189.4) scale(0.966 1)" font-size="23.6" text-anchor="middle">CS−</text>
<line x1="417.5" y1="1197.3" x2="544.2" y2="1197.3" stroke="#000" stroke-width="1.1"/>
<path d="M415.5 1197.3L422.7 1194.0V1200.6ZM546.2 1197.3L539.0 1194.0V1200.6Z" fill="#000"/>
<text transform="translate(480.5 1224.5) scale(0.966 1)" font-size="23.6" text-anchor="middle">60 s</text>
<text transform="translate(480.5 1268.8) scale(0.966 1)" font-size="23.6" text-anchor="middle">90 V</text>
<line x1="450.3" y1="1278.4" x2="511.4" y2="1278.4" stroke="#000" stroke-width="2.0"/>
<text transform="translate(480.5 1306.2) scale(0.966 1)" font-size="23.6" text-anchor="middle">CS+</text>
<path d="M480.5 1314.5L493.3 1327.5H482.8V1338.2H478.2V1327.5H467.7Z" fill="#000"/>
<line x1="397.3" y1="1376.3" x2="564.7" y2="1376.3" stroke="#000" stroke-width="2.0"/>
<path d="M415.5 1376.3V1338.2H546.2V1376.3" fill="none" stroke="#000" stroke-width="2.1"/>
<text transform="translate(480.9 1365.4) scale(0.966 1)" font-size="23.6" text-anchor="middle">Retest CS−</text>
<path d="M480.5 1399.7L493.3 1387.6H482.8V1376.3H478.2V1387.6H467.7Z" fill="#000"/>
<text transform="translate(480.5 1424.9) scale(0.966 1)" font-size="23.6" text-anchor="middle">CS−</text>
<line x1="417.5" y1="1432.8" x2="544.2" y2="1432.8" stroke="#000" stroke-width="1.1"/>
<path d="M415.5 1432.8L422.7 1429.5V1436.1ZM546.2 1432.8L539.0 1429.5V1436.1Z" fill="#000"/>
<text transform="translate(480.5 1460.0) scale(0.966 1)" font-size="23.6" text-anchor="middle">60 s</text>
<rect x="707.4" y="1046.2" width="448.2" height="146.7" fill="#E6E7E8"/>
<rect x="736.1" y="1192.9" width="35.0" height="125.4" fill="#0272BE"/>
<rect x="793.3" y="1140.0" width="35.7" height="52.9" fill="#0272BE"/>
<rect x="885.4" y="1192.9" width="35.3" height="117.9" fill="#0272BE"/>
<rect x="943.1" y="1184.1" width="35.5" height="8.8" fill="#0272BE"/>
<rect x="1034.9" y="1192.9" width="35.3" height="135.8" fill="#0272BE"/>
<rect x="1092.3" y="1192.9" width="35.7" height="24.6" fill="#0272BE"/>
<line x1="707.4" y1="1192.9" x2="1155.6" y2="1192.9" stroke="#58595B" stroke-width="1.5"/>
<text transform="translate(699.4 1054.0) scale(0.966 1)" font-size="25.8" text-anchor="end">0.8</text>
<text transform="translate(699.4 1090.7) scale(0.966 1)" font-size="25.8" text-anchor="end">0.6</text>
<text transform="translate(699.4 1127.4) scale(0.966 1)" font-size="25.8" text-anchor="end">0.4</text>
<text transform="translate(699.4 1164.1) scale(0.966 1)" font-size="25.8" text-anchor="end">0.2</text>
<text transform="translate(699.4 1200.7) scale(0.966 1)" font-size="25.8" text-anchor="end">0</text>
<text transform="translate(699.4 1237.5) scale(0.966 1)" font-size="25.8" text-anchor="end">-0.2</text>
<text transform="translate(699.4 1274.2) scale(0.966 1)" font-size="25.8" text-anchor="end">-0.4</text>
<text transform="translate(699.4 1311.0) scale(0.966 1)" font-size="25.8" text-anchor="end">-0.6</text>
<text transform="translate(699.4 1347.7) scale(0.966 1)" font-size="25.8" text-anchor="end">-0.8</text>
<text transform="translate(699.4 1384.5) scale(0.966 1)" font-size="25.8" text-anchor="end">-1</text>
<path d="M707.4 1045.5V1377.4M701.7 1046.2H707.4M701.7 1082.9H707.4M701.7 1119.6H707.4M701.7 1156.3H707.4M701.7 1192.9H707.4M701.7 1229.7H707.4M701.7 1266.4H707.4M701.7 1303.2H707.4M701.7 1339.9H707.4M701.7 1376.7H707.4" fill="none" stroke="#333" stroke-width="1.3"/>
<text transform="translate(644.1 1213.3) rotate(-90) scale(0.966 1)" font-size="30.2" text-anchor="middle">Performance Index (PI)</text>
<text transform="translate(753.4 1039.0) scale(0.966 1)" font-size="24.5" text-anchor="middle">a</text>
<text transform="translate(811.1 1039.0) scale(0.966 1)" font-size="24.5" text-anchor="middle">b</text>
<text transform="translate(902.9 1039.0) scale(0.966 1)" font-size="24.5" text-anchor="middle">a</text>
<text transform="translate(960.6 1039.0) scale(0.966 1)" font-size="24.5" text-anchor="middle">c</text>
<text transform="translate(1052.3 1039.0) scale(0.966 1)" font-size="24.5" text-anchor="middle">a</text>
<text transform="translate(1110.0 1039.0) scale(0.966 1)" font-size="24.5" text-anchor="middle">d</text>
<text transform="translate(913.9 1073.0) scale(0.966 1)" font-size="21.3" text-anchor="middle">90 V</text>
<path d="M744.8 1311.9H762.0M744.8 1325.0H762.0M753.4 1311.9V1325.0" fill="none" stroke="#000" stroke-width="1.9"/>
<path d="M802.5 1132.2H819.7M802.5 1147.8H819.7M811.1 1132.2V1147.8" fill="none" stroke="#000" stroke-width="1.9"/>
<path d="M894.2 1305.8H911.4M894.2 1315.9H911.4M902.8 1305.8V1315.9" fill="none" stroke="#000" stroke-width="1.9"/>
<path d="M951.9 1174.2H969.1M951.9 1193.4H969.1M960.5 1174.2V1193.4" fill="none" stroke="#000" stroke-width="1.9"/>
<path d="M1043.6 1320.0H1060.8M1043.6 1338.2H1060.8M1052.2 1320.0V1338.2" fill="none" stroke="#000" stroke-width="1.9"/>
<path d="M1101.5 1204.5H1118.7M1101.5 1231.5H1118.7M1110.1 1204.5V1231.5" fill="none" stroke="#000" stroke-width="1.9"/>
<g fill="#B3B3B3" stroke="#222" stroke-width="1.35">
<circle cx="746.9" cy="1291.2" r="3.55"/>
<circle cx="760.1" cy="1289.2" r="3.55"/>
<circle cx="753.4" cy="1302.4" r="3.55"/>
<circle cx="746.9" cy="1310.3" r="3.55"/>
<circle cx="760.1" cy="1308.8" r="3.55"/>
<circle cx="753.4" cy="1321.2" r="3.55"/>
<circle cx="753.4" cy="1330.5" r="3.55"/>
<circle cx="753.4" cy="1339.0" r="3.55"/>
<circle cx="746.9" cy="1344.5" r="3.55"/>
<circle cx="760.1" cy="1346.5" r="3.55"/>
<circle cx="804.4" cy="1102.1" r="3.55"/>
<circle cx="817.8" cy="1110.6" r="3.55"/>
<circle cx="811.1" cy="1127.0" r="3.55"/>
<circle cx="811.1" cy="1133.7" r="3.55"/>
<circle cx="802.0" cy="1139.9" r="3.55"/>
<circle cx="811.1" cy="1139.9" r="3.55"/>
<circle cx="820.2" cy="1137.3" r="3.55"/>
<circle cx="811.1" cy="1160.6" r="3.55"/>
<circle cx="804.4" cy="1174.4" r="3.55"/>
<circle cx="817.8" cy="1177.2" r="3.55"/>
<circle cx="896.3" cy="1289.6" r="3.55"/>
<circle cx="909.5" cy="1289.2" r="3.55"/>
<circle cx="902.8" cy="1296.1" r="3.55"/>
<circle cx="893.9" cy="1309.4" r="3.55"/>
<circle cx="902.8" cy="1307.8" r="3.55"/>
<circle cx="911.9" cy="1310.9" r="3.55"/>
<circle cx="902.8" cy="1320.2" r="3.55"/>
<circle cx="893.9" cy="1329.7" r="3.55"/>
<circle cx="902.8" cy="1329.5" r="3.55"/>
<circle cx="911.9" cy="1327.5" r="3.55"/>
<circle cx="953.8" cy="1150.9" r="3.55"/>
<circle cx="967.2" cy="1149.9" r="3.55"/>
<circle cx="953.8" cy="1160.4" r="3.55"/>
<circle cx="967.2" cy="1160.8" r="3.55"/>
<circle cx="960.5" cy="1177.8" r="3.55"/>
<circle cx="960.5" cy="1185.3" r="3.55"/>
<circle cx="960.5" cy="1198.7" r="3.55"/>
<circle cx="964.8" cy="1206.2" r="3.55"/>
<circle cx="956.3" cy="1210.6" r="3.55"/>
<circle cx="960.5" cy="1238.2" r="3.55"/>
<circle cx="1043.3" cy="1290.6" r="3.55"/>
<circle cx="1052.2" cy="1292.2" r="3.55"/>
<circle cx="1061.3" cy="1297.3" r="3.55"/>
<circle cx="1052.2" cy="1314.5" r="3.55"/>
<circle cx="1045.5" cy="1337.2" r="3.55"/>
<circle cx="1059.1" cy="1337.2" r="3.55"/>
<circle cx="1052.2" cy="1343.7" r="3.55"/>
<circle cx="1052.2" cy="1353.8" r="3.55"/>
<circle cx="1058.9" cy="1360.7" r="3.55"/>
<circle cx="1045.5" cy="1365.9" r="3.55"/>
<circle cx="1110.1" cy="1141.0" r="3.55"/>
<circle cx="1106.5" cy="1189.6" r="3.55"/>
<circle cx="1117.6" cy="1194.0" r="3.55"/>
<circle cx="1101.0" cy="1201.3" r="3.55"/>
<circle cx="1110.1" cy="1200.5" r="3.55"/>
<circle cx="1118.8" cy="1203.9" r="3.55"/>
<circle cx="1110.1" cy="1240.8" r="3.55"/>
<circle cx="1116.6" cy="1258.8" r="3.55"/>
<circle cx="1103.2" cy="1263.1" r="3.55"/>
<circle cx="1110.1" cy="1286.8" r="3.55"/>
</g>
<text transform="translate(707.4 1417.2) scale(0.966 1)" font-size="25.8" text-anchor="end">Red Light</text>
<text transform="translate(707.4 1455.3) scale(0.966 1)" font-size="25.8" text-anchor="end">Test Session</text>
<text transform="translate(756.1 1416.0) scale(0.966 1)" font-size="23.2" text-anchor="middle">−</text>
<text transform="translate(808.2 1416.0) scale(0.966 1)" font-size="23.2" text-anchor="middle">+</text>
<text transform="translate(905.4 1416.0) scale(0.966 1)" font-size="23.2" text-anchor="middle">−</text>
<text transform="translate(957.7 1416.0) scale(0.966 1)" font-size="23.2" text-anchor="middle">+</text>
<text transform="translate(1054.9 1416.0) scale(0.966 1)" font-size="23.2" text-anchor="middle">−</text>
<text transform="translate(1106.9 1416.0) scale(0.966 1)" font-size="23.2" text-anchor="middle">+</text>
<line x1="736.0" y1="1430.5" x2="829.0" y2="1430.5" stroke="#2a2a2a" stroke-width="1.2"/>
<text transform="translate(782.8 1455.3) scale(0.966 1)" font-size="25.8" text-anchor="middle">First Test</text>
<line x1="885.3" y1="1430.5" x2="978.5" y2="1430.5" stroke="#2a2a2a" stroke-width="1.2"/>
<text transform="translate(932.2 1455.3) scale(0.966 1)" font-size="25.8" text-anchor="middle">Retest CS−</text>
<line x1="1034.9" y1="1430.5" x2="1128.0" y2="1430.5" stroke="#2a2a2a" stroke-width="1.2"/>
<text transform="translate(1081.8 1455.3) scale(0.966 1)" font-size="25.8" text-anchor="middle">Retest CS+</text>
<text transform="translate(1333.3 1166.6) scale(0.966 1)" font-size="23.6" text-anchor="middle">23 °C Starved</text>
<line x1="1230.0" y1="1217.9" x2="1680.0" y2="1217.9" stroke="#000" stroke-width="2.0"/>
<path d="M1247.9 1217.9V1180.0H1324.2V1217.9" fill="none" stroke="#000" stroke-width="2.1"/>
<text transform="translate(1286.1 1207.5) scale(0.966 1)" font-size="23.6" text-anchor="middle">CS−</text>
<path d="M1342.9 1217.9V1180.0H1418.9V1217.9" fill="none" stroke="#000" stroke-width="2.1"/>
<text transform="translate(1380.9 1207.5) scale(0.966 1)" font-size="23.6" text-anchor="middle">CS+</text>
<path d="M1437.6 1217.9V1180.0H1488.2V1217.9" fill="none" stroke="#000" stroke-width="2.1"/>
<text transform="translate(1462.9 1207.5) scale(0.966 1)" font-size="23.6" text-anchor="middle">CS+</text>
<path d="M1516.3 1217.9V1180.0H1566.8V1217.9" fill="none" stroke="#000" stroke-width="2.1"/>
<text transform="translate(1541.5 1207.5) scale(0.966 1)" font-size="23.6" text-anchor="middle">CS−</text>
<path d="M1586.1 1217.9V1180.0H1662.1V1217.9" fill="none" stroke="#000" stroke-width="2.1"/>
<text transform="translate(1624.1 1207.5) scale(0.966 1)" font-size="23.6" text-anchor="middle">Test</text>
<line x1="1342.9" y1="1224.2" x2="1418.9" y2="1224.2" stroke="#000" stroke-width="2.0"/>
<line x1="1437.6" y1="1224.2" x2="1488.2" y2="1224.2" stroke="#000" stroke-width="2.0"/>
<text transform="translate(1380.5 1248.7) scale(0.966 1)" font-size="23.6" text-anchor="middle">Red Light</text>
<text transform="translate(1462.9 1248.7) scale(0.966 1)" font-size="23.6" text-anchor="middle">90 V</text>
<text transform="translate(1623.7 1147.9) scale(0.966 1)" font-size="23.6" text-anchor="middle">CS+</text>
<path d="M1623.7 1157.1L1636.5 1169.7H1626.0V1180.0H1621.4V1169.7H1610.9Z" fill="#000"/>
<path d="M1623.7 1241.3L1636.5 1228.9H1626.0V1217.9H1621.4V1228.9H1610.9Z" fill="#000"/>
<text transform="translate(1623.7 1265.8) scale(0.966 1)" font-size="23.6" text-anchor="middle">CS−</text>
<line x1="1249.9" y1="1283.4" x2="1660.1" y2="1283.4" stroke="#000" stroke-width="1.1"/>
<path d="M1247.9 1283.4L1255.1 1280.1V1286.7ZM1324.2 1283.4L1317.0 1280.1V1286.7ZM1324.2 1283.4L1331.4 1280.1V1286.7ZM1342.9 1283.4L1335.7 1280.1V1286.7ZM1342.9 1283.4L1350.1 1280.1V1286.7ZM1418.9 1283.4L1411.7 1280.1V1286.7ZM1418.9 1283.4L1426.1 1280.1V1286.7ZM1437.6 1283.4L1430.4 1280.1V1286.7ZM1437.6 1283.4L1444.8 1280.1V1286.7ZM1488.2 1283.4L1481.0 1280.1V1286.7ZM1488.2 1283.4L1495.4 1280.1V1286.7ZM1516.3 1283.4L1509.1 1280.1V1286.7ZM1516.3 1283.4L1523.5 1280.1V1286.7ZM1566.8 1283.4L1559.6 1280.1V1286.7ZM1566.8 1283.4L1574.0 1280.1V1286.7ZM1586.1 1283.4L1578.9 1280.1V1286.7ZM1586.1 1283.4L1593.3 1280.1V1286.7ZM1662.1 1283.4L1654.9 1280.1V1286.7Z" fill="#000"/>
<text transform="translate(1286.3 1309.7) scale(0.966 1)" font-size="23.6" text-anchor="middle">120</text>
<text transform="translate(1333.4 1309.7) scale(0.966 1)" font-size="23.6" text-anchor="middle">30</text>
<text transform="translate(1381.0 1309.7) scale(0.966 1)" font-size="23.6" text-anchor="middle">120</text>
<text transform="translate(1427.9 1309.7) scale(0.966 1)" font-size="23.6" text-anchor="middle">30</text>
<text transform="translate(1462.6 1309.7) scale(0.966 1)" font-size="23.6" text-anchor="middle">60</text>
<text transform="translate(1502.1 1309.7) scale(0.966 1)" font-size="23.6" text-anchor="middle">45</text>
<text transform="translate(1541.3 1309.7) scale(0.966 1)" font-size="23.6" text-anchor="middle">60</text>
<text transform="translate(1576.1 1309.7) scale(0.966 1)" font-size="23.6" text-anchor="middle">30</text>
<text transform="translate(1623.7 1309.7) scale(0.966 1)" font-size="23.6" text-anchor="middle">120</text>
<text transform="translate(1455.0 1337.6) scale(0.966 1)" font-size="23.6" text-anchor="middle">Time (s)</text>
<rect x="1792.7" y="1108.4" width="35.5" height="150.9" fill="#575756"/>
<rect x="1854.0" y="1084.7" width="35.5" height="23.7" fill="#F39419"/>
<rect x="1915.1" y="1108.4" width="36.0" height="20.1" fill="#0F9D6E"/>
<rect x="1976.3" y="1108.4" width="35.9" height="5.1" fill="#3A85C5"/>
<line x1="1777.9" y1="1108.4" x2="2026.9" y2="1108.4" stroke="#222" stroke-width="1.3"/>
<text transform="translate(1769.9 1034.9) scale(0.966 1)" font-size="25.8" text-anchor="end">0.2</text>
<text transform="translate(1769.9 1117.1) scale(0.966 1)" font-size="25.8" text-anchor="end">0</text>
<text transform="translate(1769.9 1200.0) scale(0.966 1)" font-size="25.8" text-anchor="end">-0.2</text>
<text transform="translate(1769.9 1282.9) scale(0.966 1)" font-size="25.8" text-anchor="end">-0.4</text>
<text transform="translate(1769.9 1365.8) scale(0.966 1)" font-size="25.8" text-anchor="end">-0.6</text>
<path d="M1777.9 1025.6V1357.9M1772.2 1026.3H1777.9M1772.2 1108.5H1777.9M1772.2 1191.4H1777.9M1772.2 1274.3H1777.9M1772.2 1357.2H1777.9" fill="none" stroke="#333" stroke-width="1.3"/>
<text transform="translate(1713.2 1191.5) rotate(-90) scale(0.966 1)" font-size="30.2" text-anchor="middle">Performance Index (PI)</text>
<text transform="translate(1810.4 1019.5) scale(0.966 1)" font-size="24.5" text-anchor="middle">a</text>
<text transform="translate(1871.6 1019.5) scale(0.966 1)" font-size="24.5" text-anchor="middle">b</text>
<text transform="translate(1933.0 1019.5) scale(0.966 1)" font-size="24.5" text-anchor="middle">c</text>
<text transform="translate(1994.5 1019.5) scale(0.966 1)" font-size="24.5" text-anchor="middle">bc</text>
<path d="M1801.7 1247.0H1818.9M1801.7 1271.7H1818.9M1810.3 1247.0V1271.7" fill="none" stroke="#000" stroke-width="1.9"/>
<path d="M1862.9 1075.0H1880.1M1862.9 1092.9H1880.1M1871.5 1075.0V1092.9" fill="none" stroke="#000" stroke-width="1.9"/>
<path d="M1924.4 1119.8H1941.6M1924.4 1137.5H1941.6M1933.0 1119.8V1137.5" fill="none" stroke="#000" stroke-width="1.9"/>
<path d="M1985.7 1104.1H2002.9M1985.7 1122.8H2002.9M1994.3 1104.1V1122.8" fill="none" stroke="#000" stroke-width="1.9"/>
<g fill="#B3B3B3" stroke="#222" stroke-width="1.35">
<circle cx="1810.3" cy="1214.4" r="3.55"/>
<circle cx="1818.3" cy="1216.5" r="3.55"/>
<circle cx="1802.0" cy="1221.8" r="3.55"/>
<circle cx="1810.3" cy="1231.2" r="3.55"/>
<circle cx="1818.3" cy="1237.4" r="3.55"/>
<circle cx="1802.0" cy="1241.7" r="3.55"/>
<circle cx="1810.3" cy="1251.3" r="3.55"/>
<circle cx="1802.0" cy="1261.7" r="3.55"/>
<circle cx="1818.3" cy="1268.5" r="3.55"/>
<circle cx="1810.3" cy="1301.6" r="3.55"/>
<circle cx="1818.3" cy="1328.2" r="3.55"/>
<circle cx="1802.0" cy="1338.9" r="3.55"/>
<circle cx="1879.7" cy="1036.5" r="3.55"/>
<circle cx="1863.5" cy="1043.8" r="3.55"/>
<circle cx="1863.5" cy="1059.0" r="3.55"/>
<circle cx="1879.7" cy="1059.4" r="3.55"/>
<circle cx="1871.5" cy="1068.8" r="3.55"/>
<circle cx="1871.5" cy="1079.8" r="3.55"/>
<circle cx="1868.7" cy="1100.7" r="3.55"/>
<circle cx="1874.7" cy="1102.5" r="3.55"/>
<circle cx="1862.5" cy="1105.7" r="3.55"/>
<circle cx="1880.9" cy="1105.7" r="3.55"/>
<circle cx="1871.5" cy="1112.9" r="3.55"/>
<circle cx="1871.5" cy="1137.4" r="3.55"/>
<circle cx="1933.0" cy="1038.1" r="3.55"/>
<circle cx="1927.0" cy="1121.4" r="3.55"/>
<circle cx="1933.0" cy="1120.8" r="3.55"/>
<circle cx="1923.7" cy="1126.8" r="3.55"/>
<circle cx="1936.1" cy="1125.9" r="3.55"/>
<circle cx="1942.1" cy="1126.8" r="3.55"/>
<circle cx="1933.0" cy="1134.9" r="3.55"/>
<circle cx="1923.7" cy="1142.4" r="3.55"/>
<circle cx="1942.1" cy="1145.7" r="3.55"/>
<circle cx="1923.7" cy="1150.5" r="3.55"/>
<circle cx="1933.0" cy="1149.9" r="3.55"/>
<circle cx="1933.0" cy="1160.2" r="3.55"/>
<circle cx="1994.3" cy="1063.6" r="3.55"/>
<circle cx="1985.0" cy="1081.1" r="3.55"/>
<circle cx="1994.3" cy="1079.6" r="3.55"/>
<circle cx="2003.6" cy="1081.6" r="3.55"/>
<circle cx="1994.3" cy="1107.2" r="3.55"/>
<circle cx="1994.3" cy="1117.1" r="3.55"/>
<circle cx="1994.3" cy="1125.4" r="3.55"/>
<circle cx="2003.6" cy="1125.0" r="3.55"/>
<circle cx="1985.0" cy="1131.5" r="3.55"/>
<circle cx="1994.3" cy="1140.7" r="3.55"/>
<circle cx="2002.4" cy="1152.1" r="3.55"/>
<circle cx="1986.2" cy="1158.1" r="3.55"/>
</g>
<text transform="translate(1777.0 1398.1) scale(0.966 1)" font-size="25.8" text-anchor="end">0273-GAL4</text>
<text transform="translate(1777.0 1436.1) scale(0.966 1)" font-size="25.8" text-anchor="end">R48B04-GAL4</text>
<text transform="translate(1777.0 1473.6) scale(0.966 1)" font-size="25.8" text-anchor="end">R15A04-GAL80</text>
<text transform="translate(1433.0 1436.1) scale(0.966 1)" font-size="25.8">UAS-CsChr ×</text>
<circle cx="1871.8" cy="1388.5" r="14.3" fill="#F39419"/>
<circle cx="1933.1" cy="1426.8" r="14.3" fill="#0F9D6E"/>
<circle cx="1994.5" cy="1426.8" r="14.3" fill="#0A6EBD"/>
<circle cx="1810.4" cy="1465" r="14.3" fill="#575756"/>
<circle cx="1994.5" cy="1465" r="14.3" fill="#0A6EBD"/>
</svg></body></html>
